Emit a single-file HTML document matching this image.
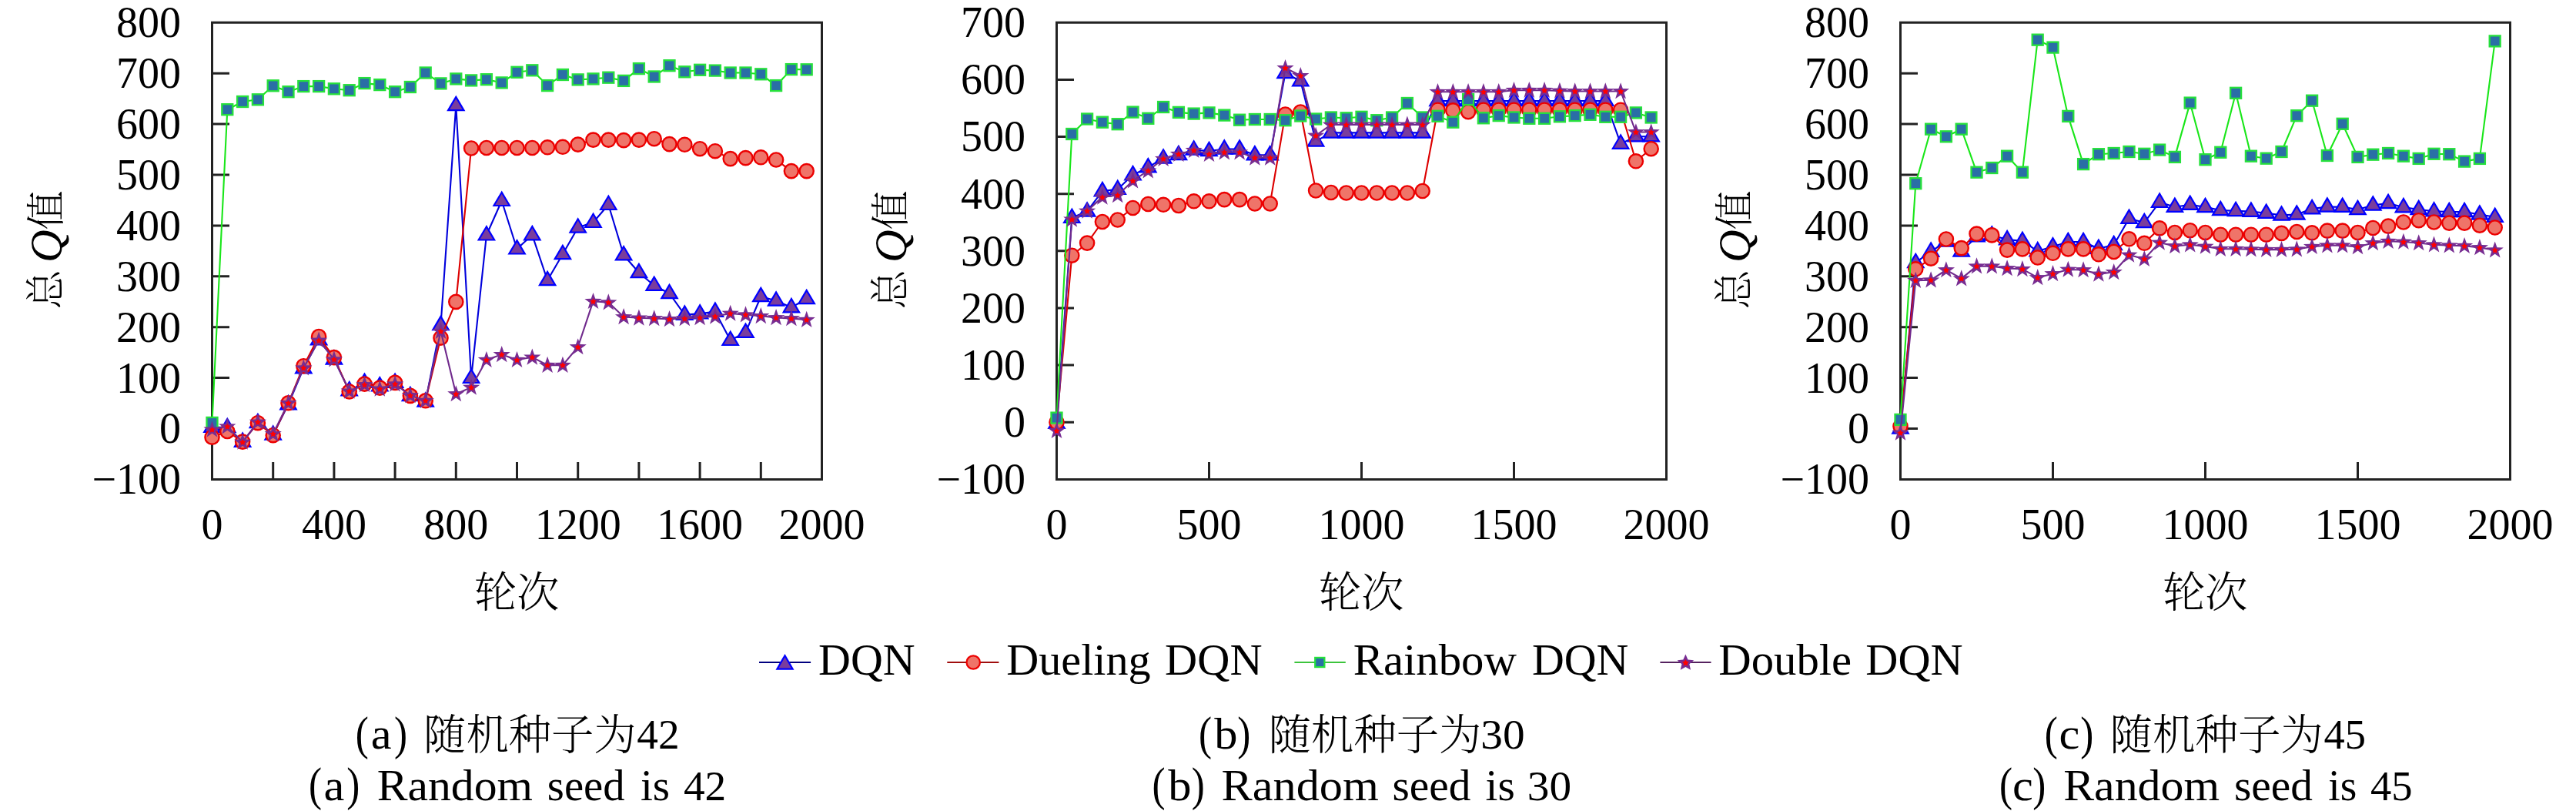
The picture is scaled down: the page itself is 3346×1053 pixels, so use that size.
<!DOCTYPE html>
<html><head><meta charset="utf-8"><style>html,body{margin:0;padding:0;background:#fff;overflow:hidden}svg{display:block}</style></head><body>
<svg width="3346" height="1053" viewBox="0 0 3346 1053">
<rect width="3346" height="1053" fill="#fff"/>
<g stroke="#222" stroke-width="3" fill="none" stroke-linecap="square">
<path d="M275.5 29.3H1067.5V622.4H275.5Z"/>
<path d="M275.5 556.5H298M275.5 490.6H298M275.5 424.7H298M275.5 358.8H298M275.5 292.9H298M275.5 227H298M275.5 161.1H298M275.5 95.2H298M354.7 622.4V599.9M433.9 622.4V599.9M513.1 622.4V599.9M592.3 622.4V599.9M671.5 622.4V599.9M750.7 622.4V599.9M829.9 622.4V599.9M909.1 622.4V599.9M988.3 622.4V599.9" stroke-linecap="butt"/>
</g>
<path d="M275.5 554.6L295.3 555L315.1 573.6L334.9 549L354.7 564.5L374.5 525.1L394.3 478.2L414.1 441.2L433.9 466.4L453.7 507.1L473.5 496.7L493.3 501.2L513.1 496.7L532.9 514L552.7 521.4L572.5 422L592.3 137L612.1 490.8L631.9 305.3L651.7 260.8L671.5 323.3L691.3 305.1L711.1 364L730.9 330L750.7 295.4L770.5 288.8L790.3 265.8L810.1 331.2L829.9 354L849.7 370.7L869.5 381L889.3 408.6L909.1 407.3L928.9 404.6L948.7 441.8L968.5 431.7L988.3 385L1008.1 390.5L1027.9 399.1L1047.7 388" fill="none" stroke="#0000dc" stroke-width="2.1" stroke-linejoin="round"/>
<g fill="#7a3d9c" stroke="#0000ff" stroke-width="2.2" stroke-linejoin="miter">
<path d="M275.5 543.5L265.3 560.8L285.7 560.8Z"/>
<path d="M295.3 543.9L285.1 561.2L305.5 561.2Z"/>
<path d="M315.1 562.5L304.9 579.8L325.3 579.8Z"/>
<path d="M334.9 537.9L324.7 555.2L345.1 555.2Z"/>
<path d="M354.7 553.4L344.5 570.7L364.9 570.7Z"/>
<path d="M374.5 514L364.3 531.3L384.7 531.3Z"/>
<path d="M394.3 467.1L384.1 484.4L404.5 484.4Z"/>
<path d="M414.1 430.1L403.9 447.4L424.3 447.4Z"/>
<path d="M433.9 455.3L423.7 472.6L444.1 472.6Z"/>
<path d="M453.7 496L443.5 513.3L463.9 513.3Z"/>
<path d="M473.5 485.6L463.3 502.9L483.7 502.9Z"/>
<path d="M493.3 490.1L483.1 507.4L503.5 507.4Z"/>
<path d="M513.1 485.6L502.9 502.9L523.3 502.9Z"/>
<path d="M532.9 502.9L522.7 520.2L543.1 520.2Z"/>
<path d="M552.7 510.3L542.5 527.6L562.9 527.6Z"/>
<path d="M572.5 410.9L562.3 428.2L582.7 428.2Z"/>
<path d="M592.3 125.9L582.1 143.2L602.5 143.2Z"/>
<path d="M612.1 479.7L601.9 497L622.3 497Z"/>
<path d="M631.9 294.2L621.7 311.5L642.1 311.5Z"/>
<path d="M651.7 249.7L641.5 267L661.9 267Z"/>
<path d="M671.5 312.2L661.3 329.5L681.7 329.5Z"/>
<path d="M691.3 294L681.1 311.3L701.5 311.3Z"/>
<path d="M711.1 352.9L700.9 370.2L721.3 370.2Z"/>
<path d="M730.9 318.9L720.7 336.2L741.1 336.2Z"/>
<path d="M750.7 284.3L740.5 301.6L760.9 301.6Z"/>
<path d="M770.5 277.7L760.3 295L780.7 295Z"/>
<path d="M790.3 254.7L780.1 272L800.5 272Z"/>
<path d="M810.1 320.1L799.9 337.4L820.3 337.4Z"/>
<path d="M829.9 342.9L819.7 360.2L840.1 360.2Z"/>
<path d="M849.7 359.6L839.5 376.9L859.9 376.9Z"/>
<path d="M869.5 369.9L859.3 387.2L879.7 387.2Z"/>
<path d="M889.3 397.5L879.1 414.8L899.5 414.8Z"/>
<path d="M909.1 396.2L898.9 413.5L919.3 413.5Z"/>
<path d="M928.9 393.5L918.7 410.8L939.1 410.8Z"/>
<path d="M948.7 430.7L938.5 448L958.9 448Z"/>
<path d="M968.5 420.6L958.3 437.9L978.7 437.9Z"/>
<path d="M988.3 373.9L978.1 391.2L998.5 391.2Z"/>
<path d="M1008.1 379.4L997.9 396.7L1018.3 396.7Z"/>
<path d="M1027.9 388L1017.7 405.3L1038.1 405.3Z"/>
<path d="M1047.7 376.9L1037.5 394.2L1057.9 394.2Z"/>
</g>
<path d="M275.5 567.7L295.3 560L315.1 573.6L334.9 549.2L354.7 565.2L374.5 523.3L394.3 475.2L414.1 437L433.9 464.1L453.7 508.5L473.5 498.6L493.3 503.6L513.1 496.9L532.9 513.9L552.7 520.3L572.5 438.7L592.3 391.9L612.1 192.5L631.9 192L651.7 192L671.5 192L691.3 192L711.1 191.3L730.9 190.8L750.7 187.6L770.5 181.6L790.3 181.6L810.1 182.1L829.9 181.6L849.7 180.2L869.5 187.1L889.3 187.8L909.1 193.2L928.9 196.2L948.7 206.1L968.5 205.1L988.3 204.3L1008.1 207.5L1027.9 222.1L1047.7 222.1" fill="none" stroke="#dc0000" stroke-width="2.1" stroke-linejoin="round"/>
<g fill="#ef7469" stroke="#ec0000" stroke-width="2.4">
<circle cx="275.5" cy="567.7" r="9.1"/>
<circle cx="295.3" cy="560" r="9.1"/>
<circle cx="315.1" cy="573.6" r="9.1"/>
<circle cx="334.9" cy="549.2" r="9.1"/>
<circle cx="354.7" cy="565.2" r="9.1"/>
<circle cx="374.5" cy="523.3" r="9.1"/>
<circle cx="394.3" cy="475.2" r="9.1"/>
<circle cx="414.1" cy="437" r="9.1"/>
<circle cx="433.9" cy="464.1" r="9.1"/>
<circle cx="453.7" cy="508.5" r="9.1"/>
<circle cx="473.5" cy="498.6" r="9.1"/>
<circle cx="493.3" cy="503.6" r="9.1"/>
<circle cx="513.1" cy="496.9" r="9.1"/>
<circle cx="532.9" cy="513.9" r="9.1"/>
<circle cx="552.7" cy="520.3" r="9.1"/>
<circle cx="572.5" cy="438.7" r="9.1"/>
<circle cx="592.3" cy="391.9" r="9.1"/>
<circle cx="612.1" cy="192.5" r="9.1"/>
<circle cx="631.9" cy="192" r="9.1"/>
<circle cx="651.7" cy="192" r="9.1"/>
<circle cx="671.5" cy="192" r="9.1"/>
<circle cx="691.3" cy="192" r="9.1"/>
<circle cx="711.1" cy="191.3" r="9.1"/>
<circle cx="730.9" cy="190.8" r="9.1"/>
<circle cx="750.7" cy="187.6" r="9.1"/>
<circle cx="770.5" cy="181.6" r="9.1"/>
<circle cx="790.3" cy="181.6" r="9.1"/>
<circle cx="810.1" cy="182.1" r="9.1"/>
<circle cx="829.9" cy="181.6" r="9.1"/>
<circle cx="849.7" cy="180.2" r="9.1"/>
<circle cx="869.5" cy="187.1" r="9.1"/>
<circle cx="889.3" cy="187.8" r="9.1"/>
<circle cx="909.1" cy="193.2" r="9.1"/>
<circle cx="928.9" cy="196.2" r="9.1"/>
<circle cx="948.7" cy="206.1" r="9.1"/>
<circle cx="968.5" cy="205.1" r="9.1"/>
<circle cx="988.3" cy="204.3" r="9.1"/>
<circle cx="1008.1" cy="207.5" r="9.1"/>
<circle cx="1027.9" cy="222.1" r="9.1"/>
<circle cx="1047.7" cy="222.1" r="9.1"/>
</g>
<path d="M275.5 548.9L295.3 142.2L315.1 132L334.9 129.3L354.7 111.3L374.5 119.2L394.3 112.1L414.1 112.1L433.9 115.3L453.7 117.2L473.5 108.1L493.3 110.1L513.1 119.2L532.9 113L552.7 94.5L572.5 108.4L592.3 102.4L612.1 104.4L631.9 103.2L651.7 107.4L671.5 93.8L691.3 91.3L711.1 111.1L730.9 97L750.7 103.4L770.5 102.4L790.3 100.7L810.1 104.9L829.9 89.1L849.7 99.5L869.5 85.2L889.3 93.3L909.1 90.8L928.9 91.6L948.7 94.5L968.5 94.5L988.3 96.3L1008.1 111.1L1027.9 90.1L1047.7 90.3" fill="none" stroke="#19e619" stroke-width="2.1" stroke-linejoin="round"/>
<g fill="#2a6ea6" stroke="#26e03c" stroke-width="2.3">
<rect x="268.5" y="541.9" width="14" height="14"/>
<rect x="288.3" y="135.2" width="14" height="14"/>
<rect x="308.1" y="125" width="14" height="14"/>
<rect x="327.9" y="122.3" width="14" height="14"/>
<rect x="347.7" y="104.3" width="14" height="14"/>
<rect x="367.5" y="112.2" width="14" height="14"/>
<rect x="387.3" y="105.1" width="14" height="14"/>
<rect x="407.1" y="105.1" width="14" height="14"/>
<rect x="426.9" y="108.3" width="14" height="14"/>
<rect x="446.7" y="110.2" width="14" height="14"/>
<rect x="466.5" y="101.1" width="14" height="14"/>
<rect x="486.3" y="103.1" width="14" height="14"/>
<rect x="506.1" y="112.2" width="14" height="14"/>
<rect x="525.9" y="106" width="14" height="14"/>
<rect x="545.7" y="87.5" width="14" height="14"/>
<rect x="565.5" y="101.4" width="14" height="14"/>
<rect x="585.3" y="95.4" width="14" height="14"/>
<rect x="605.1" y="97.4" width="14" height="14"/>
<rect x="624.9" y="96.2" width="14" height="14"/>
<rect x="644.7" y="100.4" width="14" height="14"/>
<rect x="664.5" y="86.8" width="14" height="14"/>
<rect x="684.3" y="84.3" width="14" height="14"/>
<rect x="704.1" y="104.1" width="14" height="14"/>
<rect x="723.9" y="90" width="14" height="14"/>
<rect x="743.7" y="96.4" width="14" height="14"/>
<rect x="763.5" y="95.4" width="14" height="14"/>
<rect x="783.3" y="93.7" width="14" height="14"/>
<rect x="803.1" y="97.9" width="14" height="14"/>
<rect x="822.9" y="82.1" width="14" height="14"/>
<rect x="842.7" y="92.5" width="14" height="14"/>
<rect x="862.5" y="78.2" width="14" height="14"/>
<rect x="882.3" y="86.3" width="14" height="14"/>
<rect x="902.1" y="83.8" width="14" height="14"/>
<rect x="921.9" y="84.6" width="14" height="14"/>
<rect x="941.7" y="87.5" width="14" height="14"/>
<rect x="961.5" y="87.5" width="14" height="14"/>
<rect x="981.3" y="89.3" width="14" height="14"/>
<rect x="1001.1" y="104.1" width="14" height="14"/>
<rect x="1020.9" y="83.1" width="14" height="14"/>
<rect x="1040.7" y="83.3" width="14" height="14"/>
</g>
<path d="M275.5 557.7L295.3 553.7L315.1 574L334.9 548L354.7 563.3L374.5 523.3L394.3 477.7L414.1 441.9L433.9 466.6L453.7 507.8L473.5 499.4L493.3 504.8L513.1 498.6L532.9 513.4L552.7 520.1L572.5 430.1L592.3 511.5L612.1 503L631.9 467.2L651.7 460.3L671.5 467.2L691.3 463.8L711.1 474.1L730.9 474.1L750.7 450.5L770.5 391.2L790.3 392.6L810.1 411.4L829.9 412.8L849.7 413.5L869.5 414.3L889.3 413.5L909.1 412.4L928.9 410.8L948.7 407L968.5 408.6L988.3 410.3L1008.1 412.4L1027.9 413.5L1047.7 415.1" fill="none" stroke="#702a8c" stroke-width="2.1" stroke-linejoin="round"/>
<g fill="#772d92"><path d="M275.5 546.4L278.26 554.3L286.63 554.48L279.97 559.55L282.38 567.57L275.5 562.8L268.62 567.57L271.03 559.55L264.37 554.48L272.74 554.3Z"/><path d="M295.3 542.4L298.06 550.3L306.43 550.48L299.77 555.55L302.18 563.57L295.3 558.8L288.42 563.57L290.83 555.55L284.17 550.48L292.54 550.3Z"/><path d="M315.1 562.7L317.86 570.6L326.23 570.78L319.57 575.85L321.98 583.87L315.1 579.1L308.22 583.87L310.63 575.85L303.97 570.78L312.34 570.6Z"/><path d="M334.9 536.7L337.66 544.6L346.03 544.78L339.37 549.85L341.78 557.87L334.9 553.1L328.02 557.87L330.43 549.85L323.77 544.78L332.14 544.6Z"/><path d="M354.7 552L357.46 559.9L365.83 560.08L359.17 565.15L361.58 573.17L354.7 568.4L347.82 573.17L350.23 565.15L343.57 560.08L351.94 559.9Z"/><path d="M374.5 512L377.26 519.9L385.63 520.08L378.97 525.15L381.38 533.17L374.5 528.4L367.62 533.17L370.03 525.15L363.37 520.08L371.74 519.9Z"/><path d="M394.3 466.4L397.06 474.3L405.43 474.48L398.77 479.55L401.18 487.57L394.3 482.8L387.42 487.57L389.83 479.55L383.17 474.48L391.54 474.3Z"/><path d="M414.1 430.6L416.86 438.5L425.23 438.68L418.57 443.75L420.98 451.77L414.1 447L407.22 451.77L409.63 443.75L402.97 438.68L411.34 438.5Z"/><path d="M433.9 455.3L436.66 463.2L445.03 463.38L438.37 468.45L440.78 476.47L433.9 471.7L427.02 476.47L429.43 468.45L422.77 463.38L431.14 463.2Z"/><path d="M453.7 496.5L456.46 504.4L464.83 504.58L458.17 509.65L460.58 517.67L453.7 512.9L446.82 517.67L449.23 509.65L442.57 504.58L450.94 504.4Z"/><path d="M473.5 488.1L476.26 496L484.63 496.18L477.97 501.25L480.38 509.27L473.5 504.5L466.62 509.27L469.03 501.25L462.37 496.18L470.74 496Z"/><path d="M493.3 493.5L496.06 501.4L504.43 501.58L497.77 506.65L500.18 514.67L493.3 509.9L486.42 514.67L488.83 506.65L482.17 501.58L490.54 501.4Z"/><path d="M513.1 487.3L515.86 495.2L524.23 495.38L517.57 500.45L519.98 508.47L513.1 503.7L506.22 508.47L508.63 500.45L501.97 495.38L510.34 495.2Z"/><path d="M532.9 502.1L535.66 510L544.03 510.18L537.37 515.25L539.78 523.27L532.9 518.5L526.02 523.27L528.43 515.25L521.77 510.18L530.14 510Z"/><path d="M552.7 508.8L555.46 516.7L563.83 516.88L557.17 521.95L559.58 529.97L552.7 525.2L545.82 529.97L548.23 521.95L541.57 516.88L549.94 516.7Z"/><path d="M572.5 418.8L575.26 426.7L583.63 426.88L576.97 431.95L579.38 439.97L572.5 435.2L565.62 439.97L568.03 431.95L561.37 426.88L569.74 426.7Z"/><path d="M592.3 500.2L595.06 508.1L603.43 508.28L596.77 513.35L599.18 521.37L592.3 516.6L585.42 521.37L587.83 513.35L581.17 508.28L589.54 508.1Z"/><path d="M612.1 491.7L614.86 499.6L623.23 499.78L616.57 504.85L618.98 512.87L612.1 508.1L605.22 512.87L607.63 504.85L600.97 499.78L609.34 499.6Z"/><path d="M631.9 455.9L634.66 463.8L643.03 463.98L636.37 469.05L638.78 477.07L631.9 472.3L625.02 477.07L627.43 469.05L620.77 463.98L629.14 463.8Z"/><path d="M651.7 449L654.46 456.9L662.83 457.08L656.17 462.15L658.58 470.17L651.7 465.4L644.82 470.17L647.23 462.15L640.57 457.08L648.94 456.9Z"/><path d="M671.5 455.9L674.26 463.8L682.63 463.98L675.97 469.05L678.38 477.07L671.5 472.3L664.62 477.07L667.03 469.05L660.37 463.98L668.74 463.8Z"/><path d="M691.3 452.5L694.06 460.4L702.43 460.58L695.77 465.65L698.18 473.67L691.3 468.9L684.42 473.67L686.83 465.65L680.17 460.58L688.54 460.4Z"/><path d="M711.1 462.8L713.86 470.7L722.23 470.88L715.57 475.95L717.98 483.97L711.1 479.2L704.22 483.97L706.63 475.95L699.97 470.88L708.34 470.7Z"/><path d="M730.9 462.8L733.66 470.7L742.03 470.88L735.37 475.95L737.78 483.97L730.9 479.2L724.02 483.97L726.43 475.95L719.77 470.88L728.14 470.7Z"/><path d="M750.7 439.2L753.46 447.1L761.83 447.28L755.17 452.35L757.58 460.37L750.7 455.6L743.82 460.37L746.23 452.35L739.57 447.28L747.94 447.1Z"/><path d="M770.5 379.9L773.26 387.8L781.63 387.98L774.97 393.05L777.38 401.07L770.5 396.3L763.62 401.07L766.03 393.05L759.37 387.98L767.74 387.8Z"/><path d="M790.3 381.3L793.06 389.2L801.43 389.38L794.77 394.45L797.18 402.47L790.3 397.7L783.42 402.47L785.83 394.45L779.17 389.38L787.54 389.2Z"/><path d="M810.1 400.1L812.86 408L821.23 408.18L814.57 413.25L816.98 421.27L810.1 416.5L803.22 421.27L805.63 413.25L798.97 408.18L807.34 408Z"/><path d="M829.9 401.5L832.66 409.4L841.03 409.58L834.37 414.65L836.78 422.67L829.9 417.9L823.02 422.67L825.43 414.65L818.77 409.58L827.14 409.4Z"/><path d="M849.7 402.2L852.46 410.1L860.83 410.28L854.17 415.35L856.58 423.37L849.7 418.6L842.82 423.37L845.23 415.35L838.57 410.28L846.94 410.1Z"/><path d="M869.5 403L872.26 410.9L880.63 411.08L873.97 416.15L876.38 424.17L869.5 419.4L862.62 424.17L865.03 416.15L858.37 411.08L866.74 410.9Z"/><path d="M889.3 402.2L892.06 410.1L900.43 410.28L893.77 415.35L896.18 423.37L889.3 418.6L882.42 423.37L884.83 415.35L878.17 410.28L886.54 410.1Z"/><path d="M909.1 401.1L911.86 409L920.23 409.18L913.57 414.25L915.98 422.27L909.1 417.5L902.22 422.27L904.63 414.25L897.97 409.18L906.34 409Z"/><path d="M928.9 399.5L931.66 407.4L940.03 407.58L933.37 412.65L935.78 420.67L928.9 415.9L922.02 420.67L924.43 412.65L917.77 407.58L926.14 407.4Z"/><path d="M948.7 395.7L951.46 403.6L959.83 403.78L953.17 408.85L955.58 416.87L948.7 412.1L941.82 416.87L944.23 408.85L937.57 403.78L945.94 403.6Z"/><path d="M968.5 397.3L971.26 405.2L979.63 405.38L972.97 410.45L975.38 418.47L968.5 413.7L961.62 418.47L964.03 410.45L957.37 405.38L965.74 405.2Z"/><path d="M988.3 399L991.06 406.9L999.43 407.08L992.77 412.15L995.18 420.17L988.3 415.4L981.42 420.17L983.83 412.15L977.17 407.08L985.54 406.9Z"/><path d="M1008.1 401.1L1010.86 409L1019.23 409.18L1012.57 414.25L1014.98 422.27L1008.1 417.5L1001.22 422.27L1003.63 414.25L996.97 409.18L1005.34 409Z"/><path d="M1027.9 402.2L1030.66 410.1L1039.03 410.28L1032.37 415.35L1034.78 423.37L1027.9 418.6L1021.02 423.37L1023.43 415.35L1016.77 410.28L1025.14 410.1Z"/><path d="M1047.7 403.8L1050.46 411.7L1058.83 411.88L1052.17 416.95L1054.58 424.97L1047.7 420.2L1040.82 424.97L1043.23 416.95L1036.57 411.88L1044.94 411.7Z"/></g>
<g fill="#ff0000"><path d="M275.5 553.8L276.89 556.19L279.59 556.77L277.75 558.83L278.03 561.58L275.5 560.47L272.97 561.58L273.25 558.83L271.41 556.77L274.11 556.19Z"/><path d="M295.3 549.8L296.69 552.19L299.39 552.77L297.55 554.83L297.83 557.58L295.3 556.47L292.77 557.58L293.05 554.83L291.21 552.77L293.91 552.19Z"/><path d="M315.1 570.1L316.49 572.49L319.19 573.07L317.35 575.13L317.63 577.88L315.1 576.76L312.57 577.88L312.85 575.13L311.01 573.07L313.71 572.49Z"/><path d="M334.9 544.1L336.29 546.49L338.99 547.07L337.15 549.13L337.43 551.88L334.9 550.76L332.37 551.88L332.65 549.13L330.81 547.07L333.51 546.49Z"/><path d="M354.7 559.4L356.09 561.79L358.79 562.37L356.95 564.43L357.23 567.18L354.7 566.06L352.17 567.18L352.45 564.43L350.61 562.37L353.31 561.79Z"/><path d="M374.5 519.4L375.89 521.79L378.59 522.37L376.75 524.43L377.03 527.18L374.5 526.06L371.97 527.18L372.25 524.43L370.41 522.37L373.11 521.79Z"/><path d="M394.3 473.8L395.69 476.19L398.39 476.77L396.55 478.83L396.83 481.58L394.3 480.46L391.77 481.58L392.05 478.83L390.21 476.77L392.91 476.19Z"/><path d="M414.1 438L415.49 440.39L418.19 440.97L416.35 443.03L416.63 445.78L414.1 444.66L411.57 445.78L411.85 443.03L410.01 440.97L412.71 440.39Z"/><path d="M433.9 462.7L435.29 465.09L437.99 465.67L436.15 467.73L436.43 470.48L433.9 469.37L431.37 470.48L431.65 467.73L429.81 465.67L432.51 465.09Z"/><path d="M453.7 503.9L455.09 506.29L457.79 506.87L455.95 508.93L456.23 511.68L453.7 510.56L451.17 511.68L451.45 508.93L449.61 506.87L452.31 506.29Z"/><path d="M473.5 495.5L474.89 497.89L477.59 498.47L475.75 500.53L476.03 503.28L473.5 502.16L470.97 503.28L471.25 500.53L469.41 498.47L472.11 497.89Z"/><path d="M493.3 500.9L494.69 503.29L497.39 503.87L495.55 505.93L495.83 508.68L493.3 507.56L490.77 508.68L491.05 505.93L489.21 503.87L491.91 503.29Z"/><path d="M513.1 494.7L514.49 497.09L517.19 497.67L515.35 499.73L515.63 502.48L513.1 501.37L510.57 502.48L510.85 499.73L509.01 497.67L511.71 497.09Z"/><path d="M532.9 509.5L534.29 511.89L536.99 512.47L535.15 514.53L535.43 517.28L532.9 516.16L530.37 517.28L530.65 514.53L528.81 512.47L531.51 511.89Z"/><path d="M552.7 516.2L554.09 518.59L556.79 519.17L554.95 521.23L555.23 523.98L552.7 522.87L550.17 523.98L550.45 521.23L548.61 519.17L551.31 518.59Z"/><path d="M572.5 426.2L573.89 428.59L576.59 429.17L574.75 431.23L575.03 433.98L572.5 432.87L569.97 433.98L570.25 431.23L568.41 429.17L571.11 428.59Z"/><path d="M592.3 507.6L593.69 509.99L596.39 510.57L594.55 512.63L594.83 515.38L592.3 514.26L589.77 515.38L590.05 512.63L588.21 510.57L590.91 509.99Z"/><path d="M612.1 499.1L613.49 501.49L616.19 502.07L614.35 504.13L614.63 506.88L612.1 505.76L609.57 506.88L609.85 504.13L608.01 502.07L610.71 501.49Z"/><path d="M631.9 463.3L633.29 465.69L635.99 466.27L634.15 468.33L634.43 471.08L631.9 469.96L629.37 471.08L629.65 468.33L627.81 466.27L630.51 465.69Z"/><path d="M651.7 456.4L653.09 458.79L655.79 459.37L653.95 461.43L654.23 464.18L651.7 463.06L649.17 464.18L649.45 461.43L647.61 459.37L650.31 458.79Z"/><path d="M671.5 463.3L672.89 465.69L675.59 466.27L673.75 468.33L674.03 471.08L671.5 469.96L668.97 471.08L669.25 468.33L667.41 466.27L670.11 465.69Z"/><path d="M691.3 459.9L692.69 462.29L695.39 462.87L693.55 464.93L693.83 467.68L691.3 466.56L688.77 467.68L689.05 464.93L687.21 462.87L689.91 462.29Z"/><path d="M711.1 470.2L712.49 472.59L715.19 473.17L713.35 475.23L713.63 477.98L711.1 476.87L708.57 477.98L708.85 475.23L707.01 473.17L709.71 472.59Z"/><path d="M730.9 470.2L732.29 472.59L734.99 473.17L733.15 475.23L733.43 477.98L730.9 476.87L728.37 477.98L728.65 475.23L726.81 473.17L729.51 472.59Z"/><path d="M750.7 446.6L752.09 448.99L754.79 449.57L752.95 451.63L753.23 454.38L750.7 453.26L748.17 454.38L748.45 451.63L746.61 449.57L749.31 448.99Z"/><path d="M770.5 387.3L771.89 389.69L774.59 390.27L772.75 392.33L773.03 395.08L770.5 393.96L767.97 395.08L768.25 392.33L766.41 390.27L769.11 389.69Z"/><path d="M790.3 388.7L791.69 391.09L794.39 391.67L792.55 393.73L792.83 396.48L790.3 395.37L787.77 396.48L788.05 393.73L786.21 391.67L788.91 391.09Z"/><path d="M810.1 407.5L811.49 409.89L814.19 410.47L812.35 412.53L812.63 415.28L810.1 414.16L807.57 415.28L807.85 412.53L806.01 410.47L808.71 409.89Z"/><path d="M829.9 408.9L831.29 411.29L833.99 411.87L832.15 413.93L832.43 416.68L829.9 415.56L827.37 416.68L827.65 413.93L825.81 411.87L828.51 411.29Z"/><path d="M849.7 409.6L851.09 411.99L853.79 412.57L851.95 414.63L852.23 417.38L849.7 416.26L847.17 417.38L847.45 414.63L845.61 412.57L848.31 411.99Z"/><path d="M869.5 410.4L870.89 412.79L873.59 413.37L871.75 415.43L872.03 418.18L869.5 417.06L866.97 418.18L867.25 415.43L865.41 413.37L868.11 412.79Z"/><path d="M889.3 409.6L890.69 411.99L893.39 412.57L891.55 414.63L891.83 417.38L889.3 416.26L886.77 417.38L887.05 414.63L885.21 412.57L887.91 411.99Z"/><path d="M909.1 408.5L910.49 410.89L913.19 411.47L911.35 413.53L911.63 416.28L909.1 415.16L906.57 416.28L906.85 413.53L905.01 411.47L907.71 410.89Z"/><path d="M928.9 406.9L930.29 409.29L932.99 409.87L931.15 411.93L931.43 414.68L928.9 413.56L926.37 414.68L926.65 411.93L924.81 409.87L927.51 409.29Z"/><path d="M948.7 403.1L950.09 405.49L952.79 406.07L950.95 408.13L951.23 410.88L948.7 409.76L946.17 410.88L946.45 408.13L944.61 406.07L947.31 405.49Z"/><path d="M968.5 404.7L969.89 407.09L972.59 407.67L970.75 409.73L971.03 412.48L968.5 411.37L965.97 412.48L966.25 409.73L964.41 407.67L967.11 407.09Z"/><path d="M988.3 406.4L989.69 408.79L992.39 409.37L990.55 411.43L990.83 414.18L988.3 413.06L985.77 414.18L986.05 411.43L984.21 409.37L986.91 408.79Z"/><path d="M1008.1 408.5L1009.49 410.89L1012.19 411.47L1010.35 413.53L1010.63 416.28L1008.1 415.16L1005.57 416.28L1005.85 413.53L1004.01 411.47L1006.71 410.89Z"/><path d="M1027.9 409.6L1029.29 411.99L1031.99 412.57L1030.15 414.63L1030.43 417.38L1027.9 416.26L1025.37 417.38L1025.65 414.63L1023.81 412.57L1026.51 411.99Z"/><path d="M1047.7 411.2L1049.09 413.59L1051.79 414.17L1049.95 416.23L1050.23 418.98L1047.7 417.87L1045.17 418.98L1045.45 416.23L1043.61 414.17L1046.31 413.59Z"/></g>
<g font-family="'Liberation Serif', 'Noto Serif CJK SC', serif" font-size="56" fill="#000">
<text x="235" y="641.3" text-anchor="end">−100</text>
<text x="235" y="575.4" text-anchor="end">0</text>
<text x="235" y="509.5" text-anchor="end">100</text>
<text x="235" y="443.6" text-anchor="end">200</text>
<text x="235" y="377.7" text-anchor="end">300</text>
<text x="235" y="311.8" text-anchor="end">400</text>
<text x="235" y="245.9" text-anchor="end">500</text>
<text x="235" y="180" text-anchor="end">600</text>
<text x="235" y="114.1" text-anchor="end">700</text>
<text x="235" y="48.2" text-anchor="end">800</text>
<text x="275.5" y="700.3" text-anchor="middle">0</text>
<text x="433.9" y="700.3" text-anchor="middle">400</text>
<text x="592.3" y="700.3" text-anchor="middle">800</text>
<text x="750.7" y="700.3" text-anchor="middle">1200</text>
<text x="909.1" y="700.3" text-anchor="middle">1600</text>
<text x="1067.5" y="700.3" text-anchor="middle">2000</text>
</g>
<text font-family="'Liberation Serif', 'Noto Serif CJK SC', serif" font-size="51" font-weight="300" text-anchor="middle" transform="translate(77 375.75) rotate(-90)">总</text>
<text font-family="'Liberation Serif', 'Noto Serif CJK SC', serif" font-size="59" font-style="italic" text-anchor="middle" transform="translate(80 319.75) rotate(-90)">Q</text>
<text font-family="'Liberation Serif', 'Noto Serif CJK SC', serif" font-size="51" font-weight="300" text-anchor="middle" transform="translate(77.5 272.7) rotate(-90)">值</text>
<g stroke="#222" stroke-width="3" fill="none" stroke-linecap="square">
<path d="M1372.5 29.3H2164.5V622.4H1372.5Z"/>
<path d="M1372.5 548.26H1395M1372.5 474.12H1395M1372.5 399.99H1395M1372.5 325.85H1395M1372.5 251.71H1395M1372.5 177.57H1395M1372.5 103.44H1395M1570.5 622.4V599.9M1768.5 622.4V599.9M1966.5 622.4V599.9" stroke-linecap="butt"/>
</g>
<path d="M1372.5 549.8L1392.3 282.8L1412.1 274.5L1431.9 248.1L1451.7 245.8L1471.5 227.1L1491.3 217.2L1511.1 205.4L1530.9 200.9L1550.7 194.5L1570.5 196L1590.3 193.5L1610.1 193.5L1629.9 201.2L1649.7 201.2L1669.5 95L1689.3 105.2L1709.1 183.4L1728.9 172.4L1748.7 172.4L1768.5 172.4L1788.3 172.4L1808.1 172.4L1827.9 172.4L1847.7 172.4L1867.5 131L1887.3 131L1907.1 131L1926.9 131L1946.7 131L1966.5 131L1986.3 131L2006.1 131L2025.9 131L2045.7 131L2065.5 131L2085.3 131L2105.1 186.6L2124.9 177.2L2144.7 177.2" fill="none" stroke="#0000dc" stroke-width="2.1" stroke-linejoin="round"/>
<g fill="#7a3d9c" stroke="#0000ff" stroke-width="2.2" stroke-linejoin="miter">
<path d="M1372.5 538.7L1362.3 556L1382.7 556Z"/>
<path d="M1392.3 271.7L1382.1 289L1402.5 289Z"/>
<path d="M1412.1 263.4L1401.9 280.7L1422.3 280.7Z"/>
<path d="M1431.9 237L1421.7 254.3L1442.1 254.3Z"/>
<path d="M1451.7 234.7L1441.5 252L1461.9 252Z"/>
<path d="M1471.5 216L1461.3 233.3L1481.7 233.3Z"/>
<path d="M1491.3 206.1L1481.1 223.4L1501.5 223.4Z"/>
<path d="M1511.1 194.3L1500.9 211.6L1521.3 211.6Z"/>
<path d="M1530.9 189.8L1520.7 207.1L1541.1 207.1Z"/>
<path d="M1550.7 183.4L1540.5 200.7L1560.9 200.7Z"/>
<path d="M1570.5 184.9L1560.3 202.2L1580.7 202.2Z"/>
<path d="M1590.3 182.4L1580.1 199.7L1600.5 199.7Z"/>
<path d="M1610.1 182.4L1599.9 199.7L1620.3 199.7Z"/>
<path d="M1629.9 190.1L1619.7 207.4L1640.1 207.4Z"/>
<path d="M1649.7 190.1L1639.5 207.4L1659.9 207.4Z"/>
<path d="M1669.5 83.9L1659.3 101.2L1679.7 101.2Z"/>
<path d="M1689.3 94.1L1679.1 111.4L1699.5 111.4Z"/>
<path d="M1709.1 172.3L1698.9 189.6L1719.3 189.6Z"/>
<path d="M1728.9 161.3L1718.7 178.6L1739.1 178.6Z"/>
<path d="M1748.7 161.3L1738.5 178.6L1758.9 178.6Z"/>
<path d="M1768.5 161.3L1758.3 178.6L1778.7 178.6Z"/>
<path d="M1788.3 161.3L1778.1 178.6L1798.5 178.6Z"/>
<path d="M1808.1 161.3L1797.9 178.6L1818.3 178.6Z"/>
<path d="M1827.9 161.3L1817.7 178.6L1838.1 178.6Z"/>
<path d="M1847.7 161.3L1837.5 178.6L1857.9 178.6Z"/>
<path d="M1867.5 119.9L1857.3 137.2L1877.7 137.2Z"/>
<path d="M1887.3 119.9L1877.1 137.2L1897.5 137.2Z"/>
<path d="M1907.1 119.9L1896.9 137.2L1917.3 137.2Z"/>
<path d="M1926.9 119.9L1916.7 137.2L1937.1 137.2Z"/>
<path d="M1946.7 119.9L1936.5 137.2L1956.9 137.2Z"/>
<path d="M1966.5 119.9L1956.3 137.2L1976.7 137.2Z"/>
<path d="M1986.3 119.9L1976.1 137.2L1996.5 137.2Z"/>
<path d="M2006.1 119.9L1995.9 137.2L2016.3 137.2Z"/>
<path d="M2025.9 119.9L2015.7 137.2L2036.1 137.2Z"/>
<path d="M2045.7 119.9L2035.5 137.2L2055.9 137.2Z"/>
<path d="M2065.5 119.9L2055.3 137.2L2075.7 137.2Z"/>
<path d="M2085.3 119.9L2075.1 137.2L2095.5 137.2Z"/>
<path d="M2105.1 175.5L2094.9 192.8L2115.3 192.8Z"/>
<path d="M2124.9 166.1L2114.7 183.4L2135.1 183.4Z"/>
<path d="M2144.7 166.1L2134.5 183.4L2154.9 183.4Z"/>
</g>
<path d="M1372.5 548.3L1392.3 331.7L1412.1 315.6L1431.9 288L1451.7 285.5L1471.5 270L1491.3 265L1511.1 265.8L1530.9 267L1550.7 261.3L1570.5 261.3L1590.3 259.1L1610.1 259.1L1629.9 264.5L1649.7 264.5L1669.5 148.5L1689.3 145.5L1709.1 247.5L1728.9 250L1748.7 250.5L1768.5 250.5L1788.3 250.5L1808.1 250.5L1827.9 250.5L1847.7 248L1867.5 142.7L1887.3 143.4L1907.1 145.1L1926.9 142.7L1946.7 142.7L1966.5 142.7L1986.3 142.7L2006.1 142.7L2025.9 142.7L2045.7 142.7L2065.5 142.7L2085.3 142.7L2105.1 142.7L2124.9 209.3L2144.7 193.2" fill="none" stroke="#dc0000" stroke-width="2.1" stroke-linejoin="round"/>
<g fill="#ef7469" stroke="#ec0000" stroke-width="2.4">
<circle cx="1372.5" cy="548.3" r="9.1"/>
<circle cx="1392.3" cy="331.7" r="9.1"/>
<circle cx="1412.1" cy="315.6" r="9.1"/>
<circle cx="1431.9" cy="288" r="9.1"/>
<circle cx="1451.7" cy="285.5" r="9.1"/>
<circle cx="1471.5" cy="270" r="9.1"/>
<circle cx="1491.3" cy="265" r="9.1"/>
<circle cx="1511.1" cy="265.8" r="9.1"/>
<circle cx="1530.9" cy="267" r="9.1"/>
<circle cx="1550.7" cy="261.3" r="9.1"/>
<circle cx="1570.5" cy="261.3" r="9.1"/>
<circle cx="1590.3" cy="259.1" r="9.1"/>
<circle cx="1610.1" cy="259.1" r="9.1"/>
<circle cx="1629.9" cy="264.5" r="9.1"/>
<circle cx="1649.7" cy="264.5" r="9.1"/>
<circle cx="1669.5" cy="148.5" r="9.1"/>
<circle cx="1689.3" cy="145.5" r="9.1"/>
<circle cx="1709.1" cy="247.5" r="9.1"/>
<circle cx="1728.9" cy="250" r="9.1"/>
<circle cx="1748.7" cy="250.5" r="9.1"/>
<circle cx="1768.5" cy="250.5" r="9.1"/>
<circle cx="1788.3" cy="250.5" r="9.1"/>
<circle cx="1808.1" cy="250.5" r="9.1"/>
<circle cx="1827.9" cy="250.5" r="9.1"/>
<circle cx="1847.7" cy="248" r="9.1"/>
<circle cx="1867.5" cy="142.7" r="9.1"/>
<circle cx="1887.3" cy="143.4" r="9.1"/>
<circle cx="1907.1" cy="145.1" r="9.1"/>
<circle cx="1926.9" cy="142.7" r="9.1"/>
<circle cx="1946.7" cy="142.7" r="9.1"/>
<circle cx="1966.5" cy="142.7" r="9.1"/>
<circle cx="1986.3" cy="142.7" r="9.1"/>
<circle cx="2006.1" cy="142.7" r="9.1"/>
<circle cx="2025.9" cy="142.7" r="9.1"/>
<circle cx="2045.7" cy="142.7" r="9.1"/>
<circle cx="2065.5" cy="142.7" r="9.1"/>
<circle cx="2085.3" cy="142.7" r="9.1"/>
<circle cx="2105.1" cy="142.7" r="9.1"/>
<circle cx="2124.9" cy="209.3" r="9.1"/>
<circle cx="2144.7" cy="193.2" r="9.1"/>
</g>
<path d="M1372.5 542.6L1392.3 174L1412.1 154.5L1431.9 158.7L1451.7 161.2L1471.5 145.6L1491.3 153.8L1511.1 139L1530.9 145.9L1550.7 147.6L1570.5 146.4L1590.3 149.6L1610.1 155.7L1629.9 155L1649.7 155L1669.5 156.2L1689.3 150.5L1709.1 154.5L1728.9 152.5L1748.7 153.3L1768.5 151.8L1788.3 156.2L1808.1 152.5L1827.9 134L1847.7 152.5L1867.5 150.8L1887.3 158.7L1907.1 129.1L1926.9 153.3L1946.7 150.1L1966.5 152.5L1986.3 153.8L2006.1 153.8L2025.9 151.3L2045.7 150.1L2065.5 148.8L2085.3 151.8L2105.1 151.8L2124.9 146.4L2144.7 152.5" fill="none" stroke="#19e619" stroke-width="2.1" stroke-linejoin="round"/>
<g fill="#2a6ea6" stroke="#26e03c" stroke-width="2.3">
<rect x="1365.5" y="535.6" width="14" height="14"/>
<rect x="1385.3" y="167" width="14" height="14"/>
<rect x="1405.1" y="147.5" width="14" height="14"/>
<rect x="1424.9" y="151.7" width="14" height="14"/>
<rect x="1444.7" y="154.2" width="14" height="14"/>
<rect x="1464.5" y="138.6" width="14" height="14"/>
<rect x="1484.3" y="146.8" width="14" height="14"/>
<rect x="1504.1" y="132" width="14" height="14"/>
<rect x="1523.9" y="138.9" width="14" height="14"/>
<rect x="1543.7" y="140.6" width="14" height="14"/>
<rect x="1563.5" y="139.4" width="14" height="14"/>
<rect x="1583.3" y="142.6" width="14" height="14"/>
<rect x="1603.1" y="148.7" width="14" height="14"/>
<rect x="1622.9" y="148" width="14" height="14"/>
<rect x="1642.7" y="148" width="14" height="14"/>
<rect x="1662.5" y="149.2" width="14" height="14"/>
<rect x="1682.3" y="143.5" width="14" height="14"/>
<rect x="1702.1" y="147.5" width="14" height="14"/>
<rect x="1721.9" y="145.5" width="14" height="14"/>
<rect x="1741.7" y="146.3" width="14" height="14"/>
<rect x="1761.5" y="144.8" width="14" height="14"/>
<rect x="1781.3" y="149.2" width="14" height="14"/>
<rect x="1801.1" y="145.5" width="14" height="14"/>
<rect x="1820.9" y="127" width="14" height="14"/>
<rect x="1840.7" y="145.5" width="14" height="14"/>
<rect x="1860.5" y="143.8" width="14" height="14"/>
<rect x="1880.3" y="151.7" width="14" height="14"/>
<rect x="1900.1" y="122.1" width="14" height="14"/>
<rect x="1919.9" y="146.3" width="14" height="14"/>
<rect x="1939.7" y="143.1" width="14" height="14"/>
<rect x="1959.5" y="145.5" width="14" height="14"/>
<rect x="1979.3" y="146.8" width="14" height="14"/>
<rect x="1999.1" y="146.8" width="14" height="14"/>
<rect x="2018.9" y="144.3" width="14" height="14"/>
<rect x="2038.7" y="143.1" width="14" height="14"/>
<rect x="2058.5" y="141.8" width="14" height="14"/>
<rect x="2078.3" y="144.8" width="14" height="14"/>
<rect x="2098.1" y="144.8" width="14" height="14"/>
<rect x="2117.9" y="139.4" width="14" height="14"/>
<rect x="2137.7" y="145.5" width="14" height="14"/>
</g>
<path d="M1372.5 559.2L1392.3 284.8L1412.1 273.9L1431.9 255.9L1451.7 253.4L1471.5 234.7L1491.3 221.6L1511.1 206.1L1530.9 200.1L1550.7 195.2L1570.5 200.1L1590.3 197.7L1610.1 197.7L1629.9 204.8L1649.7 204.8L1669.5 88.3L1689.3 98.3L1709.1 176L1728.9 161.9L1748.7 161.9L1768.5 161.9L1788.3 161.9L1808.1 161.9L1827.9 161.9L1847.7 161.9L1867.5 119.2L1887.3 119.2L1907.1 119.2L1926.9 119.2L1946.7 119.2L1966.5 117.2L1986.3 117.2L2006.1 117.2L2025.9 118L2045.7 118.5L2065.5 118.5L2085.3 118.5L2105.1 118.5L2124.9 171.5L2144.7 171.5" fill="none" stroke="#702a8c" stroke-width="2.1" stroke-linejoin="round"/>
<g fill="#772d92"><path d="M1372.5 547.9L1375.26 555.8L1383.63 555.98L1376.97 561.05L1379.38 569.07L1372.5 564.3L1365.62 569.07L1368.03 561.05L1361.37 555.98L1369.74 555.8Z"/><path d="M1392.3 273.5L1395.06 281.4L1403.43 281.58L1396.77 286.65L1399.18 294.67L1392.3 289.9L1385.42 294.67L1387.83 286.65L1381.17 281.58L1389.54 281.4Z"/><path d="M1412.1 262.6L1414.86 270.5L1423.23 270.68L1416.57 275.75L1418.98 283.77L1412.1 279L1405.22 283.77L1407.63 275.75L1400.97 270.68L1409.34 270.5Z"/><path d="M1431.9 244.6L1434.66 252.5L1443.03 252.68L1436.37 257.75L1438.78 265.77L1431.9 261L1425.02 265.77L1427.43 257.75L1420.77 252.68L1429.14 252.5Z"/><path d="M1451.7 242.1L1454.46 250L1462.83 250.18L1456.17 255.25L1458.58 263.27L1451.7 258.5L1444.82 263.27L1447.23 255.25L1440.57 250.18L1448.94 250Z"/><path d="M1471.5 223.4L1474.26 231.3L1482.63 231.48L1475.97 236.55L1478.38 244.57L1471.5 239.8L1464.62 244.57L1467.03 236.55L1460.37 231.48L1468.74 231.3Z"/><path d="M1491.3 210.3L1494.06 218.2L1502.43 218.38L1495.77 223.45L1498.18 231.47L1491.3 226.7L1484.42 231.47L1486.83 223.45L1480.17 218.38L1488.54 218.2Z"/><path d="M1511.1 194.8L1513.86 202.7L1522.23 202.88L1515.57 207.95L1517.98 215.97L1511.1 211.2L1504.22 215.97L1506.63 207.95L1499.97 202.88L1508.34 202.7Z"/><path d="M1530.9 188.8L1533.66 196.7L1542.03 196.88L1535.37 201.95L1537.78 209.97L1530.9 205.2L1524.02 209.97L1526.43 201.95L1519.77 196.88L1528.14 196.7Z"/><path d="M1550.7 183.9L1553.46 191.8L1561.83 191.98L1555.17 197.05L1557.58 205.07L1550.7 200.3L1543.82 205.07L1546.23 197.05L1539.57 191.98L1547.94 191.8Z"/><path d="M1570.5 188.8L1573.26 196.7L1581.63 196.88L1574.97 201.95L1577.38 209.97L1570.5 205.2L1563.62 209.97L1566.03 201.95L1559.37 196.88L1567.74 196.7Z"/><path d="M1590.3 186.4L1593.06 194.3L1601.43 194.48L1594.77 199.55L1597.18 207.57L1590.3 202.8L1583.42 207.57L1585.83 199.55L1579.17 194.48L1587.54 194.3Z"/><path d="M1610.1 186.4L1612.86 194.3L1621.23 194.48L1614.57 199.55L1616.98 207.57L1610.1 202.8L1603.22 207.57L1605.63 199.55L1598.97 194.48L1607.34 194.3Z"/><path d="M1629.9 193.5L1632.66 201.4L1641.03 201.58L1634.37 206.65L1636.78 214.67L1629.9 209.9L1623.02 214.67L1625.43 206.65L1618.77 201.58L1627.14 201.4Z"/><path d="M1649.7 193.5L1652.46 201.4L1660.83 201.58L1654.17 206.65L1656.58 214.67L1649.7 209.9L1642.82 214.67L1645.23 206.65L1638.57 201.58L1646.94 201.4Z"/><path d="M1669.5 77L1672.26 84.9L1680.63 85.08L1673.97 90.15L1676.38 98.17L1669.5 93.4L1662.62 98.17L1665.03 90.15L1658.37 85.08L1666.74 84.9Z"/><path d="M1689.3 87L1692.06 94.9L1700.43 95.08L1693.77 100.15L1696.18 108.17L1689.3 103.4L1682.42 108.17L1684.83 100.15L1678.17 95.08L1686.54 94.9Z"/><path d="M1709.1 164.7L1711.86 172.6L1720.23 172.78L1713.57 177.85L1715.98 185.87L1709.1 181.1L1702.22 185.87L1704.63 177.85L1697.97 172.78L1706.34 172.6Z"/><path d="M1728.9 150.6L1731.66 158.5L1740.03 158.68L1733.37 163.75L1735.78 171.77L1728.9 167L1722.02 171.77L1724.43 163.75L1717.77 158.68L1726.14 158.5Z"/><path d="M1748.7 150.6L1751.46 158.5L1759.83 158.68L1753.17 163.75L1755.58 171.77L1748.7 167L1741.82 171.77L1744.23 163.75L1737.57 158.68L1745.94 158.5Z"/><path d="M1768.5 150.6L1771.26 158.5L1779.63 158.68L1772.97 163.75L1775.38 171.77L1768.5 167L1761.62 171.77L1764.03 163.75L1757.37 158.68L1765.74 158.5Z"/><path d="M1788.3 150.6L1791.06 158.5L1799.43 158.68L1792.77 163.75L1795.18 171.77L1788.3 167L1781.42 171.77L1783.83 163.75L1777.17 158.68L1785.54 158.5Z"/><path d="M1808.1 150.6L1810.86 158.5L1819.23 158.68L1812.57 163.75L1814.98 171.77L1808.1 167L1801.22 171.77L1803.63 163.75L1796.97 158.68L1805.34 158.5Z"/><path d="M1827.9 150.6L1830.66 158.5L1839.03 158.68L1832.37 163.75L1834.78 171.77L1827.9 167L1821.02 171.77L1823.43 163.75L1816.77 158.68L1825.14 158.5Z"/><path d="M1847.7 150.6L1850.46 158.5L1858.83 158.68L1852.17 163.75L1854.58 171.77L1847.7 167L1840.82 171.77L1843.23 163.75L1836.57 158.68L1844.94 158.5Z"/><path d="M1867.5 107.9L1870.26 115.8L1878.63 115.98L1871.97 121.05L1874.38 129.07L1867.5 124.3L1860.62 129.07L1863.03 121.05L1856.37 115.98L1864.74 115.8Z"/><path d="M1887.3 107.9L1890.06 115.8L1898.43 115.98L1891.77 121.05L1894.18 129.07L1887.3 124.3L1880.42 129.07L1882.83 121.05L1876.17 115.98L1884.54 115.8Z"/><path d="M1907.1 107.9L1909.86 115.8L1918.23 115.98L1911.57 121.05L1913.98 129.07L1907.1 124.3L1900.22 129.07L1902.63 121.05L1895.97 115.98L1904.34 115.8Z"/><path d="M1926.9 107.9L1929.66 115.8L1938.03 115.98L1931.37 121.05L1933.78 129.07L1926.9 124.3L1920.02 129.07L1922.43 121.05L1915.77 115.98L1924.14 115.8Z"/><path d="M1946.7 107.9L1949.46 115.8L1957.83 115.98L1951.17 121.05L1953.58 129.07L1946.7 124.3L1939.82 129.07L1942.23 121.05L1935.57 115.98L1943.94 115.8Z"/><path d="M1966.5 105.9L1969.26 113.8L1977.63 113.98L1970.97 119.05L1973.38 127.07L1966.5 122.3L1959.62 127.07L1962.03 119.05L1955.37 113.98L1963.74 113.8Z"/><path d="M1986.3 105.9L1989.06 113.8L1997.43 113.98L1990.77 119.05L1993.18 127.07L1986.3 122.3L1979.42 127.07L1981.83 119.05L1975.17 113.98L1983.54 113.8Z"/><path d="M2006.1 105.9L2008.86 113.8L2017.23 113.98L2010.57 119.05L2012.98 127.07L2006.1 122.3L1999.22 127.07L2001.63 119.05L1994.97 113.98L2003.34 113.8Z"/><path d="M2025.9 106.7L2028.66 114.6L2037.03 114.78L2030.37 119.85L2032.78 127.87L2025.9 123.1L2019.02 127.87L2021.43 119.85L2014.77 114.78L2023.14 114.6Z"/><path d="M2045.7 107.2L2048.46 115.1L2056.83 115.28L2050.17 120.35L2052.58 128.37L2045.7 123.6L2038.82 128.37L2041.23 120.35L2034.57 115.28L2042.94 115.1Z"/><path d="M2065.5 107.2L2068.26 115.1L2076.63 115.28L2069.97 120.35L2072.38 128.37L2065.5 123.6L2058.62 128.37L2061.03 120.35L2054.37 115.28L2062.74 115.1Z"/><path d="M2085.3 107.2L2088.06 115.1L2096.43 115.28L2089.77 120.35L2092.18 128.37L2085.3 123.6L2078.42 128.37L2080.83 120.35L2074.17 115.28L2082.54 115.1Z"/><path d="M2105.1 107.2L2107.86 115.1L2116.23 115.28L2109.57 120.35L2111.98 128.37L2105.1 123.6L2098.22 128.37L2100.63 120.35L2093.97 115.28L2102.34 115.1Z"/><path d="M2124.9 160.2L2127.66 168.1L2136.03 168.28L2129.37 173.35L2131.78 181.37L2124.9 176.6L2118.02 181.37L2120.43 173.35L2113.77 168.28L2122.14 168.1Z"/><path d="M2144.7 160.2L2147.46 168.1L2155.83 168.28L2149.17 173.35L2151.58 181.37L2144.7 176.6L2137.82 181.37L2140.23 173.35L2133.57 168.28L2141.94 168.1Z"/></g>
<g fill="#ff0000"><path d="M1372.5 555.3L1373.89 557.69L1376.59 558.27L1374.75 560.33L1375.03 563.08L1372.5 561.97L1369.97 563.08L1370.25 560.33L1368.41 558.27L1371.11 557.69Z"/><path d="M1392.3 280.9L1393.69 283.29L1396.39 283.87L1394.55 285.93L1394.83 288.68L1392.3 287.56L1389.77 288.68L1390.05 285.93L1388.21 283.87L1390.91 283.29Z"/><path d="M1412.1 270L1413.49 272.39L1416.19 272.97L1414.35 275.03L1414.63 277.78L1412.1 276.66L1409.57 277.78L1409.85 275.03L1408.01 272.97L1410.71 272.39Z"/><path d="M1431.9 252L1433.29 254.39L1435.99 254.97L1434.15 257.03L1434.43 259.78L1431.9 258.67L1429.37 259.78L1429.65 257.03L1427.81 254.97L1430.51 254.39Z"/><path d="M1451.7 249.5L1453.09 251.89L1455.79 252.47L1453.95 254.53L1454.23 257.28L1451.7 256.17L1449.17 257.28L1449.45 254.53L1447.61 252.47L1450.31 251.89Z"/><path d="M1471.5 230.8L1472.89 233.19L1475.59 233.77L1473.75 235.83L1474.03 238.58L1471.5 237.47L1468.97 238.58L1469.25 235.83L1467.41 233.77L1470.11 233.19Z"/><path d="M1491.3 217.7L1492.69 220.09L1495.39 220.67L1493.55 222.73L1493.83 225.48L1491.3 224.37L1488.77 225.48L1489.05 222.73L1487.21 220.67L1489.91 220.09Z"/><path d="M1511.1 202.2L1512.49 204.59L1515.19 205.17L1513.35 207.23L1513.63 209.98L1511.1 208.87L1508.57 209.98L1508.85 207.23L1507.01 205.17L1509.71 204.59Z"/><path d="M1530.9 196.2L1532.29 198.59L1534.99 199.17L1533.15 201.23L1533.43 203.98L1530.9 202.87L1528.37 203.98L1528.65 201.23L1526.81 199.17L1529.51 198.59Z"/><path d="M1550.7 191.3L1552.09 193.69L1554.79 194.27L1552.95 196.33L1553.23 199.08L1550.7 197.97L1548.17 199.08L1548.45 196.33L1546.61 194.27L1549.31 193.69Z"/><path d="M1570.5 196.2L1571.89 198.59L1574.59 199.17L1572.75 201.23L1573.03 203.98L1570.5 202.87L1567.97 203.98L1568.25 201.23L1566.41 199.17L1569.11 198.59Z"/><path d="M1590.3 193.8L1591.69 196.19L1594.39 196.77L1592.55 198.83L1592.83 201.58L1590.3 200.47L1587.77 201.58L1588.05 198.83L1586.21 196.77L1588.91 196.19Z"/><path d="M1610.1 193.8L1611.49 196.19L1614.19 196.77L1612.35 198.83L1612.63 201.58L1610.1 200.47L1607.57 201.58L1607.85 198.83L1606.01 196.77L1608.71 196.19Z"/><path d="M1629.9 200.9L1631.29 203.29L1633.99 203.87L1632.15 205.93L1632.43 208.68L1629.9 207.57L1627.37 208.68L1627.65 205.93L1625.81 203.87L1628.51 203.29Z"/><path d="M1649.7 200.9L1651.09 203.29L1653.79 203.87L1651.95 205.93L1652.23 208.68L1649.7 207.57L1647.17 208.68L1647.45 205.93L1645.61 203.87L1648.31 203.29Z"/><path d="M1669.5 84.4L1670.89 86.79L1673.59 87.37L1671.75 89.43L1672.03 92.18L1669.5 91.06L1666.97 92.18L1667.25 89.43L1665.41 87.37L1668.11 86.79Z"/><path d="M1689.3 94.4L1690.69 96.79L1693.39 97.37L1691.55 99.43L1691.83 102.18L1689.3 101.06L1686.77 102.18L1687.05 99.43L1685.21 97.37L1687.91 96.79Z"/><path d="M1709.1 172.1L1710.49 174.49L1713.19 175.07L1711.35 177.13L1711.63 179.88L1709.1 178.77L1706.57 179.88L1706.85 177.13L1705.01 175.07L1707.71 174.49Z"/><path d="M1728.9 158L1730.29 160.39L1732.99 160.97L1731.15 163.03L1731.43 165.78L1728.9 164.67L1726.37 165.78L1726.65 163.03L1724.81 160.97L1727.51 160.39Z"/><path d="M1748.7 158L1750.09 160.39L1752.79 160.97L1750.95 163.03L1751.23 165.78L1748.7 164.67L1746.17 165.78L1746.45 163.03L1744.61 160.97L1747.31 160.39Z"/><path d="M1768.5 158L1769.89 160.39L1772.59 160.97L1770.75 163.03L1771.03 165.78L1768.5 164.67L1765.97 165.78L1766.25 163.03L1764.41 160.97L1767.11 160.39Z"/><path d="M1788.3 158L1789.69 160.39L1792.39 160.97L1790.55 163.03L1790.83 165.78L1788.3 164.67L1785.77 165.78L1786.05 163.03L1784.21 160.97L1786.91 160.39Z"/><path d="M1808.1 158L1809.49 160.39L1812.19 160.97L1810.35 163.03L1810.63 165.78L1808.1 164.67L1805.57 165.78L1805.85 163.03L1804.01 160.97L1806.71 160.39Z"/><path d="M1827.9 158L1829.29 160.39L1831.99 160.97L1830.15 163.03L1830.43 165.78L1827.9 164.67L1825.37 165.78L1825.65 163.03L1823.81 160.97L1826.51 160.39Z"/><path d="M1847.7 158L1849.09 160.39L1851.79 160.97L1849.95 163.03L1850.23 165.78L1847.7 164.67L1845.17 165.78L1845.45 163.03L1843.61 160.97L1846.31 160.39Z"/><path d="M1867.5 115.3L1868.89 117.69L1871.59 118.27L1869.75 120.33L1870.03 123.08L1867.5 121.97L1864.97 123.08L1865.25 120.33L1863.41 118.27L1866.11 117.69Z"/><path d="M1887.3 115.3L1888.69 117.69L1891.39 118.27L1889.55 120.33L1889.83 123.08L1887.3 121.97L1884.77 123.08L1885.05 120.33L1883.21 118.27L1885.91 117.69Z"/><path d="M1907.1 115.3L1908.49 117.69L1911.19 118.27L1909.35 120.33L1909.63 123.08L1907.1 121.97L1904.57 123.08L1904.85 120.33L1903.01 118.27L1905.71 117.69Z"/><path d="M1926.9 115.3L1928.29 117.69L1930.99 118.27L1929.15 120.33L1929.43 123.08L1926.9 121.97L1924.37 123.08L1924.65 120.33L1922.81 118.27L1925.51 117.69Z"/><path d="M1946.7 115.3L1948.09 117.69L1950.79 118.27L1948.95 120.33L1949.23 123.08L1946.7 121.97L1944.17 123.08L1944.45 120.33L1942.61 118.27L1945.31 117.69Z"/><path d="M1966.5 113.3L1967.89 115.69L1970.59 116.27L1968.75 118.33L1969.03 121.08L1966.5 119.97L1963.97 121.08L1964.25 118.33L1962.41 116.27L1965.11 115.69Z"/><path d="M1986.3 113.3L1987.69 115.69L1990.39 116.27L1988.55 118.33L1988.83 121.08L1986.3 119.97L1983.77 121.08L1984.05 118.33L1982.21 116.27L1984.91 115.69Z"/><path d="M2006.1 113.3L2007.49 115.69L2010.19 116.27L2008.35 118.33L2008.63 121.08L2006.1 119.97L2003.57 121.08L2003.85 118.33L2002.01 116.27L2004.71 115.69Z"/><path d="M2025.9 114.1L2027.29 116.49L2029.99 117.07L2028.15 119.13L2028.43 121.88L2025.9 120.77L2023.37 121.88L2023.65 119.13L2021.81 117.07L2024.51 116.49Z"/><path d="M2045.7 114.6L2047.09 116.99L2049.79 117.57L2047.95 119.63L2048.23 122.38L2045.7 121.27L2043.17 122.38L2043.45 119.63L2041.61 117.57L2044.31 116.99Z"/><path d="M2065.5 114.6L2066.89 116.99L2069.59 117.57L2067.75 119.63L2068.03 122.38L2065.5 121.27L2062.97 122.38L2063.25 119.63L2061.41 117.57L2064.11 116.99Z"/><path d="M2085.3 114.6L2086.69 116.99L2089.39 117.57L2087.55 119.63L2087.83 122.38L2085.3 121.27L2082.77 122.38L2083.05 119.63L2081.21 117.57L2083.91 116.99Z"/><path d="M2105.1 114.6L2106.49 116.99L2109.19 117.57L2107.35 119.63L2107.63 122.38L2105.1 121.27L2102.57 122.38L2102.85 119.63L2101.01 117.57L2103.71 116.99Z"/><path d="M2124.9 167.6L2126.29 169.99L2128.99 170.57L2127.15 172.63L2127.43 175.38L2124.9 174.27L2122.37 175.38L2122.65 172.63L2120.81 170.57L2123.51 169.99Z"/><path d="M2144.7 167.6L2146.09 169.99L2148.79 170.57L2146.95 172.63L2147.23 175.38L2144.7 174.27L2142.17 175.38L2142.45 172.63L2140.61 170.57L2143.31 169.99Z"/></g>
<g font-family="'Liberation Serif', 'Noto Serif CJK SC', serif" font-size="56" fill="#000">
<text x="1332" y="641.3" text-anchor="end">−100</text>
<text x="1332" y="567.16" text-anchor="end">0</text>
<text x="1332" y="493.02" text-anchor="end">100</text>
<text x="1332" y="418.89" text-anchor="end">200</text>
<text x="1332" y="344.75" text-anchor="end">300</text>
<text x="1332" y="270.61" text-anchor="end">400</text>
<text x="1332" y="196.47" text-anchor="end">500</text>
<text x="1332" y="122.34" text-anchor="end">600</text>
<text x="1332" y="48.2" text-anchor="end">700</text>
<text x="1372.5" y="700.3" text-anchor="middle">0</text>
<text x="1570.5" y="700.3" text-anchor="middle">500</text>
<text x="1768.5" y="700.3" text-anchor="middle">1000</text>
<text x="1966.5" y="700.3" text-anchor="middle">1500</text>
<text x="2164.5" y="700.3" text-anchor="middle">2000</text>
</g>
<text font-family="'Liberation Serif', 'Noto Serif CJK SC', serif" font-size="51" font-weight="300" text-anchor="middle" transform="translate(1174 375.75) rotate(-90)">总</text>
<text font-family="'Liberation Serif', 'Noto Serif CJK SC', serif" font-size="59" font-style="italic" text-anchor="middle" transform="translate(1177 319.75) rotate(-90)">Q</text>
<text font-family="'Liberation Serif', 'Noto Serif CJK SC', serif" font-size="51" font-weight="300" text-anchor="middle" transform="translate(1174.5 272.7) rotate(-90)">值</text>
<g stroke="#222" stroke-width="3" fill="none" stroke-linecap="square">
<path d="M2468.5 29.3H3260.5V622.4H2468.5Z"/>
<path d="M2468.5 556.5H2491M2468.5 490.6H2491M2468.5 424.7H2491M2468.5 358.8H2491M2468.5 292.9H2491M2468.5 227H2491M2468.5 161.1H2491M2468.5 95.2H2491M2666.5 622.4V599.9M2864.5 622.4V599.9M3062.5 622.4V599.9" stroke-linecap="butt"/>
</g>
<path d="M2468.5 556.5L2488.3 340.9L2508.1 326.6L2527.9 313.5L2547.7 326.4L2567.5 307.3L2587.3 305.4L2607.1 311.1L2626.9 312.8L2646.7 326.1L2666.5 320.2L2686.3 314L2706.1 314L2725.9 322.7L2745.7 318L2765.5 283.7L2785.3 288.9L2805.1 262.6L2824.9 268.7L2844.7 265.7L2864.5 268.9L2884.3 273L2904.1 273.9L2923.9 274.6L2943.7 276.7L2963.5 279.4L2983.3 278.5L3003.1 271.1L3022.9 268.5L3042.7 268.7L3062.5 272L3082.3 266.5L3102.1 263.9L3121.9 269.1L3141.7 272L3161.5 274.3L3181.3 275L3201.1 275L3220.9 278.5L3240.7 281.8" fill="none" stroke="#0000dc" stroke-width="2.1" stroke-linejoin="round"/>
<g fill="#7a3d9c" stroke="#0000ff" stroke-width="2.2" stroke-linejoin="miter">
<path d="M2468.5 545.4L2458.3 562.7L2478.7 562.7Z"/>
<path d="M2488.3 329.8L2478.1 347.1L2498.5 347.1Z"/>
<path d="M2508.1 315.5L2497.9 332.8L2518.3 332.8Z"/>
<path d="M2527.9 302.4L2517.7 319.7L2538.1 319.7Z"/>
<path d="M2547.7 315.3L2537.5 332.6L2557.9 332.6Z"/>
<path d="M2567.5 296.2L2557.3 313.5L2577.7 313.5Z"/>
<path d="M2587.3 294.3L2577.1 311.6L2597.5 311.6Z"/>
<path d="M2607.1 300L2596.9 317.3L2617.3 317.3Z"/>
<path d="M2626.9 301.7L2616.7 319L2637.1 319Z"/>
<path d="M2646.7 315L2636.5 332.3L2656.9 332.3Z"/>
<path d="M2666.5 309.1L2656.3 326.4L2676.7 326.4Z"/>
<path d="M2686.3 302.9L2676.1 320.2L2696.5 320.2Z"/>
<path d="M2706.1 302.9L2695.9 320.2L2716.3 320.2Z"/>
<path d="M2725.9 311.6L2715.7 328.9L2736.1 328.9Z"/>
<path d="M2745.7 306.9L2735.5 324.2L2755.9 324.2Z"/>
<path d="M2765.5 272.6L2755.3 289.9L2775.7 289.9Z"/>
<path d="M2785.3 277.8L2775.1 295.1L2795.5 295.1Z"/>
<path d="M2805.1 251.5L2794.9 268.8L2815.3 268.8Z"/>
<path d="M2824.9 257.6L2814.7 274.9L2835.1 274.9Z"/>
<path d="M2844.7 254.6L2834.5 271.9L2854.9 271.9Z"/>
<path d="M2864.5 257.8L2854.3 275.1L2874.7 275.1Z"/>
<path d="M2884.3 261.9L2874.1 279.2L2894.5 279.2Z"/>
<path d="M2904.1 262.8L2893.9 280.1L2914.3 280.1Z"/>
<path d="M2923.9 263.5L2913.7 280.8L2934.1 280.8Z"/>
<path d="M2943.7 265.6L2933.5 282.9L2953.9 282.9Z"/>
<path d="M2963.5 268.3L2953.3 285.6L2973.7 285.6Z"/>
<path d="M2983.3 267.4L2973.1 284.7L2993.5 284.7Z"/>
<path d="M3003.1 260L2992.9 277.3L3013.3 277.3Z"/>
<path d="M3022.9 257.4L3012.7 274.7L3033.1 274.7Z"/>
<path d="M3042.7 257.6L3032.5 274.9L3052.9 274.9Z"/>
<path d="M3062.5 260.9L3052.3 278.2L3072.7 278.2Z"/>
<path d="M3082.3 255.4L3072.1 272.7L3092.5 272.7Z"/>
<path d="M3102.1 252.8L3091.9 270.1L3112.3 270.1Z"/>
<path d="M3121.9 258L3111.7 275.3L3132.1 275.3Z"/>
<path d="M3141.7 260.9L3131.5 278.2L3151.9 278.2Z"/>
<path d="M3161.5 263.2L3151.3 280.5L3171.7 280.5Z"/>
<path d="M3181.3 263.9L3171.1 281.2L3191.5 281.2Z"/>
<path d="M3201.1 263.9L3190.9 281.2L3211.3 281.2Z"/>
<path d="M3220.9 267.4L3210.7 284.7L3231.1 284.7Z"/>
<path d="M3240.7 270.7L3230.5 288L3250.9 288Z"/>
</g>
<path d="M2468.5 553.5L2488.3 349.3L2508.1 335.7L2527.9 310.5L2547.7 322.1L2567.5 303.6L2587.3 305.4L2607.1 324.6L2626.9 323.4L2646.7 334.5L2666.5 328.8L2686.3 323.4L2706.1 323.4L2725.9 330.3L2745.7 327L2765.5 310.3L2785.3 315.8L2805.1 296.4L2824.9 302L2844.7 299.2L2864.5 302L2884.3 304.7L2904.1 304.7L2923.9 304.7L2943.7 304.7L2963.5 302.9L2983.3 301L3003.1 302.3L3022.9 299.6L3042.7 299.6L3062.5 302L3082.3 296L3102.1 293.6L3121.9 288.5L3141.7 286.2L3161.5 288.5L3181.3 289.6L3201.1 289.6L3220.9 292.7L3240.7 295.5" fill="none" stroke="#dc0000" stroke-width="2.1" stroke-linejoin="round"/>
<g fill="#ef7469" stroke="#ec0000" stroke-width="2.4">
<circle cx="2468.5" cy="553.5" r="9.1"/>
<circle cx="2488.3" cy="349.3" r="9.1"/>
<circle cx="2508.1" cy="335.7" r="9.1"/>
<circle cx="2527.9" cy="310.5" r="9.1"/>
<circle cx="2547.7" cy="322.1" r="9.1"/>
<circle cx="2567.5" cy="303.6" r="9.1"/>
<circle cx="2587.3" cy="305.4" r="9.1"/>
<circle cx="2607.1" cy="324.6" r="9.1"/>
<circle cx="2626.9" cy="323.4" r="9.1"/>
<circle cx="2646.7" cy="334.5" r="9.1"/>
<circle cx="2666.5" cy="328.8" r="9.1"/>
<circle cx="2686.3" cy="323.4" r="9.1"/>
<circle cx="2706.1" cy="323.4" r="9.1"/>
<circle cx="2725.9" cy="330.3" r="9.1"/>
<circle cx="2745.7" cy="327" r="9.1"/>
<circle cx="2765.5" cy="310.3" r="9.1"/>
<circle cx="2785.3" cy="315.8" r="9.1"/>
<circle cx="2805.1" cy="296.4" r="9.1"/>
<circle cx="2824.9" cy="302" r="9.1"/>
<circle cx="2844.7" cy="299.2" r="9.1"/>
<circle cx="2864.5" cy="302" r="9.1"/>
<circle cx="2884.3" cy="304.7" r="9.1"/>
<circle cx="2904.1" cy="304.7" r="9.1"/>
<circle cx="2923.9" cy="304.7" r="9.1"/>
<circle cx="2943.7" cy="304.7" r="9.1"/>
<circle cx="2963.5" cy="302.9" r="9.1"/>
<circle cx="2983.3" cy="301" r="9.1"/>
<circle cx="3003.1" cy="302.3" r="9.1"/>
<circle cx="3022.9" cy="299.6" r="9.1"/>
<circle cx="3042.7" cy="299.6" r="9.1"/>
<circle cx="3062.5" cy="302" r="9.1"/>
<circle cx="3082.3" cy="296" r="9.1"/>
<circle cx="3102.1" cy="293.6" r="9.1"/>
<circle cx="3121.9" cy="288.5" r="9.1"/>
<circle cx="3141.7" cy="286.2" r="9.1"/>
<circle cx="3161.5" cy="288.5" r="9.1"/>
<circle cx="3181.3" cy="289.6" r="9.1"/>
<circle cx="3201.1" cy="289.6" r="9.1"/>
<circle cx="3220.9" cy="292.7" r="9.1"/>
<circle cx="3240.7" cy="295.5" r="9.1"/>
</g>
<path d="M2468.5 544.9L2488.3 238.2L2508.1 167.7L2527.9 177.3L2547.7 167.7L2567.5 223.7L2587.3 218L2607.1 202.7L2626.9 223.7L2646.7 51.7L2666.5 61.6L2686.3 150.9L2706.1 213.1L2725.9 200.2L2745.7 199L2765.5 197L2785.3 199.8L2805.1 194.6L2824.9 203.9L2844.7 133.6L2864.5 207.2L2884.3 197.8L2904.1 120.8L2923.9 202.7L2943.7 205.7L2963.5 197L2983.3 150.2L3003.1 130.7L3022.9 202L3042.7 160.8L3062.5 203.9L3082.3 200.7L3102.1 199L3121.9 202.7L3141.7 205.9L3161.5 199.8L3181.3 200.2L3201.1 209.6L3220.9 205.9L3240.7 53.4" fill="none" stroke="#19e619" stroke-width="2.1" stroke-linejoin="round"/>
<g fill="#2a6ea6" stroke="#26e03c" stroke-width="2.3">
<rect x="2461.5" y="537.9" width="14" height="14"/>
<rect x="2481.3" y="231.2" width="14" height="14"/>
<rect x="2501.1" y="160.7" width="14" height="14"/>
<rect x="2520.9" y="170.3" width="14" height="14"/>
<rect x="2540.7" y="160.7" width="14" height="14"/>
<rect x="2560.5" y="216.7" width="14" height="14"/>
<rect x="2580.3" y="211" width="14" height="14"/>
<rect x="2600.1" y="195.7" width="14" height="14"/>
<rect x="2619.9" y="216.7" width="14" height="14"/>
<rect x="2639.7" y="44.7" width="14" height="14"/>
<rect x="2659.5" y="54.6" width="14" height="14"/>
<rect x="2679.3" y="143.9" width="14" height="14"/>
<rect x="2699.1" y="206.1" width="14" height="14"/>
<rect x="2718.9" y="193.2" width="14" height="14"/>
<rect x="2738.7" y="192" width="14" height="14"/>
<rect x="2758.5" y="190" width="14" height="14"/>
<rect x="2778.3" y="192.8" width="14" height="14"/>
<rect x="2798.1" y="187.6" width="14" height="14"/>
<rect x="2817.9" y="196.9" width="14" height="14"/>
<rect x="2837.7" y="126.6" width="14" height="14"/>
<rect x="2857.5" y="200.2" width="14" height="14"/>
<rect x="2877.3" y="190.8" width="14" height="14"/>
<rect x="2897.1" y="113.8" width="14" height="14"/>
<rect x="2916.9" y="195.7" width="14" height="14"/>
<rect x="2936.7" y="198.7" width="14" height="14"/>
<rect x="2956.5" y="190" width="14" height="14"/>
<rect x="2976.3" y="143.2" width="14" height="14"/>
<rect x="2996.1" y="123.7" width="14" height="14"/>
<rect x="3015.9" y="195" width="14" height="14"/>
<rect x="3035.7" y="153.8" width="14" height="14"/>
<rect x="3055.5" y="196.9" width="14" height="14"/>
<rect x="3075.3" y="193.7" width="14" height="14"/>
<rect x="3095.1" y="192" width="14" height="14"/>
<rect x="3114.9" y="195.7" width="14" height="14"/>
<rect x="3134.7" y="198.9" width="14" height="14"/>
<rect x="3154.5" y="192.8" width="14" height="14"/>
<rect x="3174.3" y="193.2" width="14" height="14"/>
<rect x="3194.1" y="202.6" width="14" height="14"/>
<rect x="3213.9" y="198.9" width="14" height="14"/>
<rect x="3233.7" y="46.4" width="14" height="14"/>
</g>
<path d="M2468.5 561.9L2488.3 364.1L2508.1 363.6L2527.9 350.5L2547.7 361.6L2567.5 345.6L2587.3 345.6L2607.1 348.5L2626.9 349.3L2646.7 360.4L2666.5 355.4L2686.3 350L2706.1 350.5L2725.9 355.9L2745.7 353.3L2765.5 331L2785.3 336.2L2805.1 314.9L2824.9 319.5L2844.7 317.7L2864.5 319.9L2884.3 323.2L2904.1 323.2L2923.9 323.6L2943.7 324.1L2963.5 324.1L2983.3 323.6L3003.1 320.2L3022.9 318.6L3042.7 318.6L3062.5 320.5L3082.3 315.5L3102.1 313.1L3121.9 314L3141.7 315.5L3161.5 317.7L3181.3 318.6L3201.1 319.2L3220.9 321.4L3240.7 324.7" fill="none" stroke="#702a8c" stroke-width="2.1" stroke-linejoin="round"/>
<g fill="#772d92"><path d="M2468.5 550.6L2471.26 558.5L2479.63 558.68L2472.97 563.75L2475.38 571.77L2468.5 567L2461.62 571.77L2464.03 563.75L2457.37 558.68L2465.74 558.5Z"/><path d="M2488.3 352.8L2491.06 360.7L2499.43 360.88L2492.77 365.95L2495.18 373.97L2488.3 369.2L2481.42 373.97L2483.83 365.95L2477.17 360.88L2485.54 360.7Z"/><path d="M2508.1 352.3L2510.86 360.2L2519.23 360.38L2512.57 365.45L2514.98 373.47L2508.1 368.7L2501.22 373.47L2503.63 365.45L2496.97 360.38L2505.34 360.2Z"/><path d="M2527.9 339.2L2530.66 347.1L2539.03 347.28L2532.37 352.35L2534.78 360.37L2527.9 355.6L2521.02 360.37L2523.43 352.35L2516.77 347.28L2525.14 347.1Z"/><path d="M2547.7 350.3L2550.46 358.2L2558.83 358.38L2552.17 363.45L2554.58 371.47L2547.7 366.7L2540.82 371.47L2543.23 363.45L2536.57 358.38L2544.94 358.2Z"/><path d="M2567.5 334.3L2570.26 342.2L2578.63 342.38L2571.97 347.45L2574.38 355.47L2567.5 350.7L2560.62 355.47L2563.03 347.45L2556.37 342.38L2564.74 342.2Z"/><path d="M2587.3 334.3L2590.06 342.2L2598.43 342.38L2591.77 347.45L2594.18 355.47L2587.3 350.7L2580.42 355.47L2582.83 347.45L2576.17 342.38L2584.54 342.2Z"/><path d="M2607.1 337.2L2609.86 345.1L2618.23 345.28L2611.57 350.35L2613.98 358.37L2607.1 353.6L2600.22 358.37L2602.63 350.35L2595.97 345.28L2604.34 345.1Z"/><path d="M2626.9 338L2629.66 345.9L2638.03 346.08L2631.37 351.15L2633.78 359.17L2626.9 354.4L2620.02 359.17L2622.43 351.15L2615.77 346.08L2624.14 345.9Z"/><path d="M2646.7 349.1L2649.46 357L2657.83 357.18L2651.17 362.25L2653.58 370.27L2646.7 365.5L2639.82 370.27L2642.23 362.25L2635.57 357.18L2643.94 357Z"/><path d="M2666.5 344.1L2669.26 352L2677.63 352.18L2670.97 357.25L2673.38 365.27L2666.5 360.5L2659.62 365.27L2662.03 357.25L2655.37 352.18L2663.74 352Z"/><path d="M2686.3 338.7L2689.06 346.6L2697.43 346.78L2690.77 351.85L2693.18 359.87L2686.3 355.1L2679.42 359.87L2681.83 351.85L2675.17 346.78L2683.54 346.6Z"/><path d="M2706.1 339.2L2708.86 347.1L2717.23 347.28L2710.57 352.35L2712.98 360.37L2706.1 355.6L2699.22 360.37L2701.63 352.35L2694.97 347.28L2703.34 347.1Z"/><path d="M2725.9 344.6L2728.66 352.5L2737.03 352.68L2730.37 357.75L2732.78 365.77L2725.9 361L2719.02 365.77L2721.43 357.75L2714.77 352.68L2723.14 352.5Z"/><path d="M2745.7 342L2748.46 349.9L2756.83 350.08L2750.17 355.15L2752.58 363.17L2745.7 358.4L2738.82 363.17L2741.23 355.15L2734.57 350.08L2742.94 349.9Z"/><path d="M2765.5 319.7L2768.26 327.6L2776.63 327.78L2769.97 332.85L2772.38 340.87L2765.5 336.1L2758.62 340.87L2761.03 332.85L2754.37 327.78L2762.74 327.6Z"/><path d="M2785.3 324.9L2788.06 332.8L2796.43 332.98L2789.77 338.05L2792.18 346.07L2785.3 341.3L2778.42 346.07L2780.83 338.05L2774.17 332.98L2782.54 332.8Z"/><path d="M2805.1 303.6L2807.86 311.5L2816.23 311.68L2809.57 316.75L2811.98 324.77L2805.1 320L2798.22 324.77L2800.63 316.75L2793.97 311.68L2802.34 311.5Z"/><path d="M2824.9 308.2L2827.66 316.1L2836.03 316.28L2829.37 321.35L2831.78 329.37L2824.9 324.6L2818.02 329.37L2820.43 321.35L2813.77 316.28L2822.14 316.1Z"/><path d="M2844.7 306.4L2847.46 314.3L2855.83 314.48L2849.17 319.55L2851.58 327.57L2844.7 322.8L2837.82 327.57L2840.23 319.55L2833.57 314.48L2841.94 314.3Z"/><path d="M2864.5 308.6L2867.26 316.5L2875.63 316.68L2868.97 321.75L2871.38 329.77L2864.5 325L2857.62 329.77L2860.03 321.75L2853.37 316.68L2861.74 316.5Z"/><path d="M2884.3 311.9L2887.06 319.8L2895.43 319.98L2888.77 325.05L2891.18 333.07L2884.3 328.3L2877.42 333.07L2879.83 325.05L2873.17 319.98L2881.54 319.8Z"/><path d="M2904.1 311.9L2906.86 319.8L2915.23 319.98L2908.57 325.05L2910.98 333.07L2904.1 328.3L2897.22 333.07L2899.63 325.05L2892.97 319.98L2901.34 319.8Z"/><path d="M2923.9 312.3L2926.66 320.2L2935.03 320.38L2928.37 325.45L2930.78 333.47L2923.9 328.7L2917.02 333.47L2919.43 325.45L2912.77 320.38L2921.14 320.2Z"/><path d="M2943.7 312.8L2946.46 320.7L2954.83 320.88L2948.17 325.95L2950.58 333.97L2943.7 329.2L2936.82 333.97L2939.23 325.95L2932.57 320.88L2940.94 320.7Z"/><path d="M2963.5 312.8L2966.26 320.7L2974.63 320.88L2967.97 325.95L2970.38 333.97L2963.5 329.2L2956.62 333.97L2959.03 325.95L2952.37 320.88L2960.74 320.7Z"/><path d="M2983.3 312.3L2986.06 320.2L2994.43 320.38L2987.77 325.45L2990.18 333.47L2983.3 328.7L2976.42 333.47L2978.83 325.45L2972.17 320.38L2980.54 320.2Z"/><path d="M3003.1 308.9L3005.86 316.8L3014.23 316.98L3007.57 322.05L3009.98 330.07L3003.1 325.3L2996.22 330.07L2998.63 322.05L2991.97 316.98L3000.34 316.8Z"/><path d="M3022.9 307.3L3025.66 315.2L3034.03 315.38L3027.37 320.45L3029.78 328.47L3022.9 323.7L3016.02 328.47L3018.43 320.45L3011.77 315.38L3020.14 315.2Z"/><path d="M3042.7 307.3L3045.46 315.2L3053.83 315.38L3047.17 320.45L3049.58 328.47L3042.7 323.7L3035.82 328.47L3038.23 320.45L3031.57 315.38L3039.94 315.2Z"/><path d="M3062.5 309.2L3065.26 317.1L3073.63 317.28L3066.97 322.35L3069.38 330.37L3062.5 325.6L3055.62 330.37L3058.03 322.35L3051.37 317.28L3059.74 317.1Z"/><path d="M3082.3 304.2L3085.06 312.1L3093.43 312.28L3086.77 317.35L3089.18 325.37L3082.3 320.6L3075.42 325.37L3077.83 317.35L3071.17 312.28L3079.54 312.1Z"/><path d="M3102.1 301.8L3104.86 309.7L3113.23 309.88L3106.57 314.95L3108.98 322.97L3102.1 318.2L3095.22 322.97L3097.63 314.95L3090.97 309.88L3099.34 309.7Z"/><path d="M3121.9 302.7L3124.66 310.6L3133.03 310.78L3126.37 315.85L3128.78 323.87L3121.9 319.1L3115.02 323.87L3117.43 315.85L3110.77 310.78L3119.14 310.6Z"/><path d="M3141.7 304.2L3144.46 312.1L3152.83 312.28L3146.17 317.35L3148.58 325.37L3141.7 320.6L3134.82 325.37L3137.23 317.35L3130.57 312.28L3138.94 312.1Z"/><path d="M3161.5 306.4L3164.26 314.3L3172.63 314.48L3165.97 319.55L3168.38 327.57L3161.5 322.8L3154.62 327.57L3157.03 319.55L3150.37 314.48L3158.74 314.3Z"/><path d="M3181.3 307.3L3184.06 315.2L3192.43 315.38L3185.77 320.45L3188.18 328.47L3181.3 323.7L3174.42 328.47L3176.83 320.45L3170.17 315.38L3178.54 315.2Z"/><path d="M3201.1 307.9L3203.86 315.8L3212.23 315.98L3205.57 321.05L3207.98 329.07L3201.1 324.3L3194.22 329.07L3196.63 321.05L3189.97 315.98L3198.34 315.8Z"/><path d="M3220.9 310.1L3223.66 318L3232.03 318.18L3225.37 323.25L3227.78 331.27L3220.9 326.5L3214.02 331.27L3216.43 323.25L3209.77 318.18L3218.14 318Z"/><path d="M3240.7 313.4L3243.46 321.3L3251.83 321.48L3245.17 326.55L3247.58 334.57L3240.7 329.8L3233.82 334.57L3236.23 326.55L3229.57 321.48L3237.94 321.3Z"/></g>
<g fill="#ff0000"><path d="M2468.5 558L2469.89 560.39L2472.59 560.97L2470.75 563.03L2471.03 565.78L2468.5 564.66L2465.97 565.78L2466.25 563.03L2464.41 560.97L2467.11 560.39Z"/><path d="M2488.3 360.2L2489.69 362.59L2492.39 363.17L2490.55 365.23L2490.83 367.98L2488.3 366.87L2485.77 367.98L2486.05 365.23L2484.21 363.17L2486.91 362.59Z"/><path d="M2508.1 359.7L2509.49 362.09L2512.19 362.67L2510.35 364.73L2510.63 367.48L2508.1 366.37L2505.57 367.48L2505.85 364.73L2504.01 362.67L2506.71 362.09Z"/><path d="M2527.9 346.6L2529.29 348.99L2531.99 349.57L2530.15 351.63L2530.43 354.38L2527.9 353.26L2525.37 354.38L2525.65 351.63L2523.81 349.57L2526.51 348.99Z"/><path d="M2547.7 357.7L2549.09 360.09L2551.79 360.67L2549.95 362.73L2550.23 365.48L2547.7 364.37L2545.17 365.48L2545.45 362.73L2543.61 360.67L2546.31 360.09Z"/><path d="M2567.5 341.7L2568.89 344.09L2571.59 344.67L2569.75 346.73L2570.03 349.48L2567.5 348.37L2564.97 349.48L2565.25 346.73L2563.41 344.67L2566.11 344.09Z"/><path d="M2587.3 341.7L2588.69 344.09L2591.39 344.67L2589.55 346.73L2589.83 349.48L2587.3 348.37L2584.77 349.48L2585.05 346.73L2583.21 344.67L2585.91 344.09Z"/><path d="M2607.1 344.6L2608.49 346.99L2611.19 347.57L2609.35 349.63L2609.63 352.38L2607.1 351.26L2604.57 352.38L2604.85 349.63L2603.01 347.57L2605.71 346.99Z"/><path d="M2626.9 345.4L2628.29 347.79L2630.99 348.37L2629.15 350.43L2629.43 353.18L2626.9 352.06L2624.37 353.18L2624.65 350.43L2622.81 348.37L2625.51 347.79Z"/><path d="M2646.7 356.5L2648.09 358.89L2650.79 359.47L2648.95 361.53L2649.23 364.28L2646.7 363.16L2644.17 364.28L2644.45 361.53L2642.61 359.47L2645.31 358.89Z"/><path d="M2666.5 351.5L2667.89 353.89L2670.59 354.47L2668.75 356.53L2669.03 359.28L2666.5 358.16L2663.97 359.28L2664.25 356.53L2662.41 354.47L2665.11 353.89Z"/><path d="M2686.3 346.1L2687.69 348.49L2690.39 349.07L2688.55 351.13L2688.83 353.88L2686.3 352.76L2683.77 353.88L2684.05 351.13L2682.21 349.07L2684.91 348.49Z"/><path d="M2706.1 346.6L2707.49 348.99L2710.19 349.57L2708.35 351.63L2708.63 354.38L2706.1 353.26L2703.57 354.38L2703.85 351.63L2702.01 349.57L2704.71 348.99Z"/><path d="M2725.9 352L2727.29 354.39L2729.99 354.97L2728.15 357.03L2728.43 359.78L2725.9 358.66L2723.37 359.78L2723.65 357.03L2721.81 354.97L2724.51 354.39Z"/><path d="M2745.7 349.4L2747.09 351.79L2749.79 352.37L2747.95 354.43L2748.23 357.18L2745.7 356.06L2743.17 357.18L2743.45 354.43L2741.61 352.37L2744.31 351.79Z"/><path d="M2765.5 327.1L2766.89 329.49L2769.59 330.07L2767.75 332.13L2768.03 334.88L2765.5 333.76L2762.97 334.88L2763.25 332.13L2761.41 330.07L2764.11 329.49Z"/><path d="M2785.3 332.3L2786.69 334.69L2789.39 335.27L2787.55 337.33L2787.83 340.08L2785.3 338.96L2782.77 340.08L2783.05 337.33L2781.21 335.27L2783.91 334.69Z"/><path d="M2805.1 311L2806.49 313.39L2809.19 313.97L2807.35 316.03L2807.63 318.78L2805.1 317.66L2802.57 318.78L2802.85 316.03L2801.01 313.97L2803.71 313.39Z"/><path d="M2824.9 315.6L2826.29 317.99L2828.99 318.57L2827.15 320.63L2827.43 323.38L2824.9 322.26L2822.37 323.38L2822.65 320.63L2820.81 318.57L2823.51 317.99Z"/><path d="M2844.7 313.8L2846.09 316.19L2848.79 316.77L2846.95 318.83L2847.23 321.58L2844.7 320.46L2842.17 321.58L2842.45 318.83L2840.61 316.77L2843.31 316.19Z"/><path d="M2864.5 316L2865.89 318.39L2868.59 318.97L2866.75 321.03L2867.03 323.78L2864.5 322.66L2861.97 323.78L2862.25 321.03L2860.41 318.97L2863.11 318.39Z"/><path d="M2884.3 319.3L2885.69 321.69L2888.39 322.27L2886.55 324.33L2886.83 327.08L2884.3 325.96L2881.77 327.08L2882.05 324.33L2880.21 322.27L2882.91 321.69Z"/><path d="M2904.1 319.3L2905.49 321.69L2908.19 322.27L2906.35 324.33L2906.63 327.08L2904.1 325.96L2901.57 327.08L2901.85 324.33L2900.01 322.27L2902.71 321.69Z"/><path d="M2923.9 319.7L2925.29 322.09L2927.99 322.67L2926.15 324.73L2926.43 327.48L2923.9 326.37L2921.37 327.48L2921.65 324.73L2919.81 322.67L2922.51 322.09Z"/><path d="M2943.7 320.2L2945.09 322.59L2947.79 323.17L2945.95 325.23L2946.23 327.98L2943.7 326.87L2941.17 327.98L2941.45 325.23L2939.61 323.17L2942.31 322.59Z"/><path d="M2963.5 320.2L2964.89 322.59L2967.59 323.17L2965.75 325.23L2966.03 327.98L2963.5 326.87L2960.97 327.98L2961.25 325.23L2959.41 323.17L2962.11 322.59Z"/><path d="M2983.3 319.7L2984.69 322.09L2987.39 322.67L2985.55 324.73L2985.83 327.48L2983.3 326.37L2980.77 327.48L2981.05 324.73L2979.21 322.67L2981.91 322.09Z"/><path d="M3003.1 316.3L3004.49 318.69L3007.19 319.27L3005.35 321.33L3005.63 324.08L3003.1 322.96L3000.57 324.08L3000.85 321.33L2999.01 319.27L3001.71 318.69Z"/><path d="M3022.9 314.7L3024.29 317.09L3026.99 317.67L3025.15 319.73L3025.43 322.48L3022.9 321.37L3020.37 322.48L3020.65 319.73L3018.81 317.67L3021.51 317.09Z"/><path d="M3042.7 314.7L3044.09 317.09L3046.79 317.67L3044.95 319.73L3045.23 322.48L3042.7 321.37L3040.17 322.48L3040.45 319.73L3038.61 317.67L3041.31 317.09Z"/><path d="M3062.5 316.6L3063.89 318.99L3066.59 319.57L3064.75 321.63L3065.03 324.38L3062.5 323.26L3059.97 324.38L3060.25 321.63L3058.41 319.57L3061.11 318.99Z"/><path d="M3082.3 311.6L3083.69 313.99L3086.39 314.57L3084.55 316.63L3084.83 319.38L3082.3 318.26L3079.77 319.38L3080.05 316.63L3078.21 314.57L3080.91 313.99Z"/><path d="M3102.1 309.2L3103.49 311.59L3106.19 312.17L3104.35 314.23L3104.63 316.98L3102.1 315.87L3099.57 316.98L3099.85 314.23L3098.01 312.17L3100.71 311.59Z"/><path d="M3121.9 310.1L3123.29 312.49L3125.99 313.07L3124.15 315.13L3124.43 317.88L3121.9 316.76L3119.37 317.88L3119.65 315.13L3117.81 313.07L3120.51 312.49Z"/><path d="M3141.7 311.6L3143.09 313.99L3145.79 314.57L3143.95 316.63L3144.23 319.38L3141.7 318.26L3139.17 319.38L3139.45 316.63L3137.61 314.57L3140.31 313.99Z"/><path d="M3161.5 313.8L3162.89 316.19L3165.59 316.77L3163.75 318.83L3164.03 321.58L3161.5 320.46L3158.97 321.58L3159.25 318.83L3157.41 316.77L3160.11 316.19Z"/><path d="M3181.3 314.7L3182.69 317.09L3185.39 317.67L3183.55 319.73L3183.83 322.48L3181.3 321.37L3178.77 322.48L3179.05 319.73L3177.21 317.67L3179.91 317.09Z"/><path d="M3201.1 315.3L3202.49 317.69L3205.19 318.27L3203.35 320.33L3203.63 323.08L3201.1 321.96L3198.57 323.08L3198.85 320.33L3197.01 318.27L3199.71 317.69Z"/><path d="M3220.9 317.5L3222.29 319.89L3224.99 320.47L3223.15 322.53L3223.43 325.28L3220.9 324.16L3218.37 325.28L3218.65 322.53L3216.81 320.47L3219.51 319.89Z"/><path d="M3240.7 320.8L3242.09 323.19L3244.79 323.77L3242.95 325.83L3243.23 328.58L3240.7 327.46L3238.17 328.58L3238.45 325.83L3236.61 323.77L3239.31 323.19Z"/></g>
<g font-family="'Liberation Serif', 'Noto Serif CJK SC', serif" font-size="56" fill="#000">
<text x="2428" y="641.3" text-anchor="end">−100</text>
<text x="2428" y="575.4" text-anchor="end">0</text>
<text x="2428" y="509.5" text-anchor="end">100</text>
<text x="2428" y="443.6" text-anchor="end">200</text>
<text x="2428" y="377.7" text-anchor="end">300</text>
<text x="2428" y="311.8" text-anchor="end">400</text>
<text x="2428" y="245.9" text-anchor="end">500</text>
<text x="2428" y="180" text-anchor="end">600</text>
<text x="2428" y="114.1" text-anchor="end">700</text>
<text x="2428" y="48.2" text-anchor="end">800</text>
<text x="2468.5" y="700.3" text-anchor="middle">0</text>
<text x="2666.5" y="700.3" text-anchor="middle">500</text>
<text x="2864.5" y="700.3" text-anchor="middle">1000</text>
<text x="3062.5" y="700.3" text-anchor="middle">1500</text>
<text x="3260.5" y="700.3" text-anchor="middle">2000</text>
</g>
<text font-family="'Liberation Serif', 'Noto Serif CJK SC', serif" font-size="51" font-weight="300" text-anchor="middle" transform="translate(2270 375.75) rotate(-90)">总</text>
<text font-family="'Liberation Serif', 'Noto Serif CJK SC', serif" font-size="59" font-style="italic" text-anchor="middle" transform="translate(2273 319.75) rotate(-90)">Q</text>
<text font-family="'Liberation Serif', 'Noto Serif CJK SC', serif" font-size="51" font-weight="300" text-anchor="middle" transform="translate(2270.5 272.7) rotate(-90)">值</text>
<path d="M986 860H1053.1" stroke="#00007f" stroke-width="2.1"/>
<g fill="#7a3d9c" stroke="#0000ff" stroke-width="2.2"><path d="M1019.5 851.2L1009.4 868.7L1029.6 868.7Z"/></g>
<path d="M1230.3 860H1297.4" stroke="#a00d0d" stroke-width="2.1"/>
<circle cx="1264.2" cy="860" r="8.7" fill="#ef7469" stroke="#ec0000" stroke-width="2.2"/>
<path d="M1681.4 860H1747.8" stroke="#3cc43c" stroke-width="2.1"/>
<rect x="1708.2" y="853.9" width="12.2" height="12.2" fill="#2a6ea6" stroke="#26e03c" stroke-width="2.2"/>
<path d="M2156.4 860H2222.5" stroke="#55225f" stroke-width="2.1"/>
<g fill="#772d92"><path d="M2189.4 849.4L2192.46 856.49L2200.15 857.21L2194.35 862.31L2196.04 869.84L2189.4 865.9L2182.76 869.84L2184.45 862.31L2178.65 857.21L2186.34 856.49Z"/></g><g fill="#ff0000"><path d="M2189.4 856.1L2190.89 858.65L2193.77 859.28L2191.81 861.48L2192.1 864.42L2189.4 863.23L2186.7 864.42L2186.99 861.48L2185.03 859.28L2187.91 858.65Z"/></g>
<g font-family="'Liberation Serif', 'Noto Serif CJK SC', serif" fill="#000"><text x="1063.01" y="876" font-size="56" textLength="125.65" lengthAdjust="spacingAndGlyphs">DQN</text><text x="1307.2" y="876" font-size="56" textLength="187.52" lengthAdjust="spacingAndGlyphs">Dueling</text><text x="1513.09" y="876" font-size="56" textLength="126.46" lengthAdjust="spacingAndGlyphs">DQN</text><text x="1757.78" y="876" font-size="56" textLength="212.06" lengthAdjust="spacingAndGlyphs">Rainbow</text><text x="1990.01" y="876" font-size="56" textLength="125.44" lengthAdjust="spacingAndGlyphs">DQN</text><text x="2232.28" y="876" font-size="56" textLength="172.91" lengthAdjust="spacingAndGlyphs">Double</text><text x="2423.3" y="876" font-size="56" textLength="126.36" lengthAdjust="spacingAndGlyphs">DQN</text><text x="461.72" y="972.74" font-size="60.5" textLength="17.07" lengthAdjust="spacingAndGlyphs">(</text><text x="511.93" y="972.74" font-size="60.5" textLength="17.07" lengthAdjust="spacingAndGlyphs">)</text><text x="481.79" y="972.4" font-size="56" textLength="26.85" lengthAdjust="spacingAndGlyphs">a</text><text x="550.14" y="973.15" font-size="54.35" textLength="276.46" lengthAdjust="spacingAndGlyphs" font-weight="300">随机种子为</text><text x="827.29" y="972.4" font-size="55.5" textLength="55.35" lengthAdjust="spacingAndGlyphs">42</text><text x="401.12" y="1039.14" font-size="60.5" textLength="17.07" lengthAdjust="spacingAndGlyphs">(</text><text x="450.13" y="1039.14" font-size="60.5" textLength="17.07" lengthAdjust="spacingAndGlyphs">)</text><text x="420.59" y="1038.8" font-size="56" textLength="26.85" lengthAdjust="spacingAndGlyphs">a</text><text x="489.66" y="1038.8" font-size="56" textLength="202.31" lengthAdjust="spacingAndGlyphs">Random</text><text x="710.83" y="1038.8" font-size="56" textLength="100.74" lengthAdjust="spacingAndGlyphs">seed</text><text x="831.96" y="1038.8" font-size="56" textLength="38.16" lengthAdjust="spacingAndGlyphs">is</text><text x="887.89" y="1038.8" font-size="55.5" textLength="55.35" lengthAdjust="spacingAndGlyphs">42</text><text x="1557.02" y="972.74" font-size="60.5" textLength="17.07" lengthAdjust="spacingAndGlyphs">(</text><text x="1607.23" y="972.74" font-size="60.5" textLength="17.07" lengthAdjust="spacingAndGlyphs">)</text><text x="1577.16" y="972.4" font-size="56" textLength="30.24" lengthAdjust="spacingAndGlyphs">b</text><text x="1647.84" y="973.15" font-size="54.35" textLength="276.46" lengthAdjust="spacingAndGlyphs" font-weight="300">随机种子为</text><text x="1923.38" y="972.4" font-size="55.5" textLength="57.27" lengthAdjust="spacingAndGlyphs">30</text><text x="1496.42" y="1039.14" font-size="60.5" textLength="17.07" lengthAdjust="spacingAndGlyphs">(</text><text x="1547.83" y="1039.14" font-size="60.5" textLength="17.07" lengthAdjust="spacingAndGlyphs">)</text><text x="1517.16" y="1038.8" font-size="56" textLength="30.24" lengthAdjust="spacingAndGlyphs">b</text><text x="1586.64" y="1038.8" font-size="56" textLength="204.13" lengthAdjust="spacingAndGlyphs">Random</text><text x="1808.5" y="1038.8" font-size="56" textLength="101.98" lengthAdjust="spacingAndGlyphs">seed</text><text x="1929.55" y="1038.8" font-size="56" textLength="38.27" lengthAdjust="spacingAndGlyphs">is</text><text x="1983.88" y="1038.8" font-size="55.5" textLength="57.27" lengthAdjust="spacingAndGlyphs">30</text><text x="2655.82" y="972.74" font-size="60.5" textLength="17.07" lengthAdjust="spacingAndGlyphs">(</text><text x="2702.33" y="972.74" font-size="60.5" textLength="17.07" lengthAdjust="spacingAndGlyphs">)</text><text x="2674.49" y="972.4" font-size="56" textLength="26.85" lengthAdjust="spacingAndGlyphs">c</text><text x="2740.63" y="973.15" font-size="54.35" textLength="277.18" lengthAdjust="spacingAndGlyphs" font-weight="300">随机种子为</text><text x="3018.51" y="972.4" font-size="55.5" textLength="54.47" lengthAdjust="spacingAndGlyphs">45</text><text x="2596.92" y="1039.14" font-size="60.5" textLength="17.07" lengthAdjust="spacingAndGlyphs">(</text><text x="2640.13" y="1039.14" font-size="60.5" textLength="17.07" lengthAdjust="spacingAndGlyphs">)</text><text x="2613.94" y="1038.8" font-size="56" textLength="26.85" lengthAdjust="spacingAndGlyphs">c</text><text x="2680.15" y="1038.8" font-size="56" textLength="202.92" lengthAdjust="spacingAndGlyphs">Random</text><text x="2902" y="1038.8" font-size="56" textLength="101.98" lengthAdjust="spacingAndGlyphs">seed</text><text x="3024.29" y="1038.8" font-size="56" textLength="36.96" lengthAdjust="spacingAndGlyphs">is</text><text x="3079.01" y="1038.8" font-size="55.5" textLength="54.57" lengthAdjust="spacingAndGlyphs">45</text><text x="616.13" y="788.33" font-size="54.59" textLength="110.43" lengthAdjust="spacingAndGlyphs" font-weight="300">轮次</text><text x="1713.13" y="788.33" font-size="54.59" textLength="110.43" lengthAdjust="spacingAndGlyphs" font-weight="300">轮次</text><text x="2809.13" y="788.33" font-size="54.59" textLength="110.43" lengthAdjust="spacingAndGlyphs" font-weight="300">轮次</text></g>
</svg>
</body></html>
